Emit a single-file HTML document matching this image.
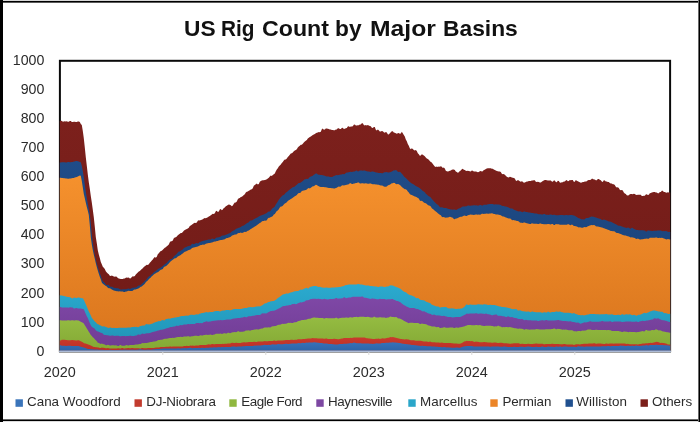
<!DOCTYPE html>
<html><head><meta charset="utf-8"><title>US Rig Count by Major Basins</title>
<style>
html,body{margin:0;padding:0;background:#fff;}
body{width:700px;height:422px;overflow:hidden;position:relative;font-family:"Liberation Sans",sans-serif;color:#333;}
#frame div{position:absolute;}
#title{position:absolute;left:0;width:700px;top:14.4px;height:28px;font-weight:bold;font-size:22.8px;line-height:28px;color:#111;white-space:nowrap;}
#title span{position:absolute;top:0;display:inline-block;transform-origin:0 0;}
svg{position:absolute;left:0;top:0;}
#title,.yl,.xl,.lt{filter:grayscale(1);}
.yl{position:absolute;left:0;width:44.4px;text-align:right;font-size:14.2px;line-height:16px;height:16px;color:#2b2b2b;}
.xl{position:absolute;top:364.2px;width:50px;text-align:center;font-size:14.4px;line-height:16px;color:#2b2b2b;}
.sq{position:absolute;top:399.3px;width:7.4px;height:7.4px;}
.lt{position:absolute;top:393.6px;font-size:13.4px;line-height:16px;color:#2b2b2b;white-space:nowrap;}
</style></head><body>
<div id="title"><span style="left:183.70px;transform:scaleX(0.9966)">US</span> <span style="left:221.00px;transform:scaleX(0.9116)">Rig</span> <span style="left:262.00px;transform:scaleX(1.0177)">Count</span> <span style="left:335.20px;transform:scaleX(0.9973)">by</span> <span style="left:370.20px;transform:scaleX(1.0830)">Major</span> <span style="left:443.30px;transform:scaleX(1.0004)">Basins</span></div>
<svg width="700" height="422" viewBox="0 0 700 422">
<defs>
<linearGradient id="gT" gradientUnits="userSpaceOnUse" x1="0" y1="120.8" x2="0" y2="289.6"><stop offset="0" stop-color="#7c201c"/><stop offset="1" stop-color="#731c18"/></linearGradient>
<linearGradient id="gW" gradientUnits="userSpaceOnUse" x1="0" y1="161.0" x2="0" y2="292.0"><stop offset="0" stop-color="#1f4c88"/><stop offset="1" stop-color="#1a4279"/></linearGradient>
<linearGradient id="gP" gradientUnits="userSpaceOnUse" x1="0" y1="175.5" x2="0" y2="328.1"><stop offset="0" stop-color="#f5912d"/><stop offset="1" stop-color="#dc781f"/></linearGradient>
<linearGradient id="gM" gradientUnits="userSpaceOnUse" x1="0" y1="284.0" x2="0" y2="336.2"><stop offset="0" stop-color="#2baacf"/><stop offset="1" stop-color="#2297ba"/></linearGradient>
<linearGradient id="gH" gradientUnits="userSpaceOnUse" x1="0" y1="296.4" x2="0" y2="346.1"><stop offset="0" stop-color="#7f48a6"/><stop offset="1" stop-color="#703c95"/></linearGradient>
<linearGradient id="gE" gradientUnits="userSpaceOnUse" x1="0" y1="316.6" x2="0" y2="348.6"><stop offset="0" stop-color="#95bc42"/><stop offset="1" stop-color="#84a935"/></linearGradient>
<linearGradient id="gD" gradientUnits="userSpaceOnUse" x1="0" y1="337.1" x2="0" y2="350.1"><stop offset="0" stop-color="#c93a2d"/><stop offset="1" stop-color="#bb3026"/></linearGradient>
<linearGradient id="gC" gradientUnits="userSpaceOnUse" x1="0" y1="342.2" x2="0" y2="350.7"><stop offset="0" stop-color="#3771b9"/><stop offset="1" stop-color="#2d64a8"/></linearGradient>
</defs>
<rect x="59.9" y="60.8" width="610.2" height="290.4" fill="#fff" stroke="#0a0a0a" stroke-width="2"/>
<polygon fill="url(#gT)" points="59.8,350.7 59.8,121.0 60.8,121.0 61.8,120.8 62.8,121.8 63.8,121.4 64.8,121.2 65.8,121.4 66.8,121.2 67.8,121.7 68.8,121.7 69.8,120.9 70.8,121.1 71.8,121.9 72.8,122.1 73.8,121.8 74.8,121.7 75.8,122.0 76.8,121.9 77.8,121.5 78.8,121.4 79.8,122.0 80.8,123.9 81.8,125.1 82.8,131.0 83.8,138.2 84.8,147.5 85.8,157.3 86.8,165.8 87.8,174.6 88.8,182.3 89.8,188.7 90.8,196.0 91.8,202.6 92.8,209.7 93.8,217.2 94.8,226.8 95.8,236.9 96.8,243.2 97.8,250.3 98.8,254.5 99.8,258.0 100.8,262.0 101.8,264.3 102.8,266.8 103.8,267.7 104.8,268.9 105.8,271.3 106.8,272.5 107.8,273.6 108.8,274.2 109.8,275.7 110.8,276.1 111.8,275.6 112.8,276.0 113.8,276.4 114.8,276.8 115.8,276.4 116.8,276.8 117.8,278.0 118.8,278.4 119.8,278.7 120.8,279.1 121.8,279.1 122.8,278.9 123.8,278.6 124.8,278.4 125.8,277.7 126.8,277.5 127.8,277.8 128.8,277.6 129.8,278.5 130.8,278.3 131.8,276.9 132.8,276.3 133.8,276.6 134.8,276.0 135.8,274.5 136.8,273.6 137.8,272.4 138.8,271.5 139.8,271.0 140.8,270.1 141.8,269.1 142.8,268.3 143.8,267.1 144.8,266.3 145.8,265.5 146.8,264.7 147.8,265.0 148.8,264.2 149.8,262.8 150.8,261.8 151.8,260.4 152.8,259.4 153.8,258.0 154.8,257.0 155.8,257.7 156.8,256.7 157.8,254.2 158.8,253.2 159.8,251.9 160.8,250.9 161.8,250.7 162.8,249.7 163.8,248.7 164.8,247.7 165.8,247.3 166.8,246.3 167.8,245.4 168.8,244.4 169.8,242.2 170.8,241.2 171.8,241.2 172.8,240.4 173.8,238.2 174.8,237.4 175.8,237.3 176.8,236.5 177.8,235.3 178.8,234.5 179.8,233.8 180.8,233.0 181.8,232.9 182.8,232.1 183.8,230.8 184.8,230.0 185.8,229.6 186.8,228.9 187.8,228.5 188.8,227.8 189.8,226.1 190.8,225.4 191.8,224.8 192.8,224.1 193.8,223.2 194.8,222.7 195.8,222.9 196.8,222.4 197.8,220.7 198.8,220.2 199.8,220.4 200.8,220.0 201.8,219.7 202.8,219.3 203.8,218.5 204.8,218.1 205.8,218.2 206.8,217.8 207.8,217.2 208.8,216.5 209.8,216.0 210.8,215.3 211.8,214.5 212.8,213.8 213.8,213.9 214.8,213.3 215.8,211.2 216.8,210.7 217.8,211.9 218.8,211.4 219.8,209.6 220.8,209.1 221.8,210.2 222.8,209.6 223.8,208.1 224.8,207.4 225.8,206.2 226.8,205.8 227.8,205.1 228.8,204.6 229.8,204.7 230.8,205.3 231.8,206.2 232.8,205.5 233.8,203.8 234.8,202.6 235.8,202.5 236.8,201.6 237.8,199.3 238.8,198.3 239.8,198.0 240.8,197.1 241.8,196.8 242.8,196.0 243.8,195.1 244.8,194.3 245.8,192.6 246.8,191.8 247.8,191.6 248.8,190.8 249.8,190.3 250.8,189.5 251.8,189.2 252.8,188.3 253.8,185.7 254.8,185.0 255.8,184.3 256.8,183.6 257.8,184.6 258.8,183.9 259.8,181.7 260.8,181.0 261.8,180.6 262.8,180.2 263.8,180.3 264.8,179.9 265.8,179.8 266.8,179.3 267.8,178.4 268.8,177.7 269.8,176.4 270.8,175.6 271.8,175.9 272.8,175.1 273.8,174.2 274.8,173.4 275.8,171.3 276.8,169.6 277.8,168.2 278.8,166.5 279.8,165.4 280.8,164.4 281.8,163.1 282.8,162.1 283.8,160.6 284.8,159.6 285.8,159.6 286.8,158.5 287.8,157.0 288.8,155.9 289.8,154.7 290.8,153.6 291.8,153.3 292.8,152.5 293.8,151.3 294.8,150.4 295.8,150.1 296.8,149.2 297.8,147.4 298.8,146.5 299.8,145.8 300.8,144.8 301.8,144.7 302.8,143.7 303.8,142.4 304.8,141.4 305.8,140.7 306.8,140.0 307.8,138.5 308.8,137.8 309.8,137.1 310.8,136.4 311.8,135.7 312.8,135.0 313.8,134.6 314.8,134.1 315.8,133.3 316.8,132.8 317.8,132.5 318.8,132.0 319.8,132.3 320.8,131.7 321.8,129.2 322.8,128.6 323.8,129.8 324.8,129.5 325.8,128.5 326.8,128.6 327.8,128.8 328.8,128.9 329.8,129.4 330.8,129.5 331.8,129.9 332.8,130.1 333.8,130.3 334.8,130.3 335.8,129.5 336.8,129.4 337.8,128.3 338.8,128.2 339.8,129.1 340.8,129.0 341.8,128.1 342.8,127.8 343.8,129.0 344.8,128.7 345.8,128.3 346.8,127.9 347.8,126.6 348.8,126.2 349.8,126.9 350.8,126.5 351.8,126.6 352.8,126.2 353.8,124.8 354.8,124.4 355.8,125.4 356.8,125.4 357.8,125.3 358.8,125.3 359.8,124.5 360.8,124.5 361.8,123.3 362.8,123.3 363.8,125.1 364.8,125.4 365.8,125.1 366.8,125.4 367.8,125.0 368.8,125.4 369.8,126.0 370.8,126.3 371.8,127.7 372.8,128.0 373.8,126.9 374.8,127.1 375.8,129.7 376.8,130.6 377.8,129.4 378.8,130.3 379.8,131.4 380.8,131.6 381.8,130.9 382.8,131.2 383.8,132.3 384.8,132.7 385.8,131.9 386.8,132.4 387.8,134.3 388.8,134.6 389.8,133.2 390.8,132.3 391.8,131.2 392.8,131.3 393.8,132.4 394.8,132.8 395.8,133.3 396.8,133.7 397.8,133.3 398.8,132.9 399.8,133.7 400.8,133.4 401.8,131.8 402.8,133.3 403.8,134.9 404.8,136.6 405.8,139.4 406.8,141.3 407.8,143.9 408.8,145.7 409.8,148.2 410.8,149.2 411.8,148.3 412.8,149.1 413.8,149.9 414.8,150.6 415.8,150.1 416.8,151.1 417.8,153.3 418.8,154.3 419.8,155.8 420.8,155.6 421.8,154.2 422.8,154.7 423.8,155.4 424.8,156.3 425.8,157.6 426.8,158.4 427.8,158.9 428.8,159.7 429.8,161.1 430.8,161.9 431.8,162.6 432.8,164.0 433.8,165.3 434.8,166.6 435.8,167.0 436.8,166.6 437.8,167.0 438.8,166.5 439.8,166.7 440.8,166.3 441.8,166.8 442.8,168.0 443.8,167.5 444.8,168.4 445.8,170.7 446.8,171.2 447.8,171.5 448.8,171.2 449.8,170.8 450.8,170.6 451.8,169.7 452.8,169.5 453.8,169.5 454.8,170.0 455.8,171.5 456.8,172.0 457.8,172.7 458.8,172.3 459.8,170.9 460.8,170.5 461.8,169.2 462.8,168.8 463.8,169.8 464.8,170.0 465.8,170.8 466.8,171.0 467.8,170.8 468.8,170.9 469.8,171.3 470.8,171.4 471.8,170.6 472.8,170.8 473.8,171.4 474.8,171.6 475.8,171.6 476.8,171.8 477.8,172.2 478.8,172.1 479.8,171.2 480.8,171.0 481.8,171.4 482.8,171.2 483.8,170.1 484.8,169.8 485.8,169.0 486.8,168.4 487.8,168.3 488.8,168.2 489.8,168.3 490.8,168.3 491.8,168.8 492.8,168.8 493.8,169.6 494.8,170.0 495.8,170.5 496.8,170.9 497.8,171.2 498.8,171.6 499.8,171.5 500.8,171.9 501.8,173.8 502.8,174.2 503.8,173.9 504.8,174.8 505.8,175.8 506.8,176.7 507.8,177.2 508.8,177.5 509.8,176.7 510.8,177.0 511.8,177.5 512.8,177.8 513.8,177.9 514.8,178.4 515.8,180.4 516.8,180.9 517.8,180.1 518.8,180.6 519.8,181.2 520.8,181.7 521.8,181.3 522.8,181.7 523.8,182.8 524.8,182.5 525.8,181.9 526.8,181.6 527.8,181.4 528.8,181.1 529.8,181.1 530.8,181.1 531.8,180.4 532.8,180.5 533.8,180.3 534.8,180.3 535.8,181.8 536.8,182.0 537.8,181.7 538.8,181.9 539.8,182.5 540.8,182.6 541.8,181.7 542.8,181.1 543.8,180.4 544.8,180.1 545.8,180.1 546.8,180.2 547.8,180.4 548.8,180.5 549.8,180.5 550.8,180.6 551.8,181.6 552.8,181.7 553.8,180.4 554.8,180.5 555.8,182.1 556.8,182.2 557.8,180.8 558.8,180.9 559.8,182.6 560.8,182.7 561.8,182.2 562.8,182.3 563.8,181.5 564.8,181.4 565.8,180.6 566.8,180.1 567.8,181.2 568.8,180.9 569.8,180.0 570.8,180.2 571.8,179.9 572.8,179.9 573.8,181.7 574.8,181.7 575.8,180.1 576.8,180.7 577.8,181.2 578.8,181.8 579.8,182.3 580.8,182.8 581.8,182.5 582.8,182.0 583.8,182.0 584.8,181.4 585.8,181.5 586.8,181.2 587.8,180.3 588.8,180.1 589.8,180.0 590.8,179.8 591.8,178.7 592.8,178.8 593.8,179.5 594.8,179.5 595.8,180.3 596.8,180.3 597.8,178.9 598.8,179.0 599.8,179.8 600.8,180.2 601.8,181.5 602.8,181.9 603.8,180.3 604.8,180.4 605.8,181.4 606.8,181.5 607.8,181.9 608.8,182.1 609.8,182.9 610.8,183.5 611.8,183.6 612.8,184.2 613.8,184.3 614.8,185.0 615.8,186.8 616.8,187.5 617.8,187.3 618.8,188.0 619.8,189.8 620.8,190.3 621.8,190.0 622.8,190.5 623.8,192.6 624.8,193.5 625.8,193.9 626.8,195.2 627.8,195.4 628.8,195.2 629.8,194.2 630.8,193.9 631.8,194.1 632.8,194.2 633.8,193.8 634.8,193.9 635.8,194.8 636.8,194.9 637.8,194.7 638.8,194.8 639.8,194.7 640.8,194.7 641.8,196.0 642.8,196.0 643.8,195.7 644.8,195.7 645.8,194.6 646.8,194.2 647.8,195.1 648.8,194.7 649.8,193.3 650.8,192.9 651.8,192.4 652.8,192.3 653.8,192.0 654.8,191.9 655.8,192.6 656.8,192.6 657.8,193.3 658.8,193.2 659.8,192.0 660.8,192.0 661.8,190.8 662.8,190.7 663.8,192.1 664.8,192.0 665.8,192.4 666.8,192.7 667.8,192.2 668.8,192.4 669.8,192.6 670.2,192.5 670.2,350.7"/>
<polygon fill="url(#gW)" points="59.8,350.7 59.8,162.6 60.8,162.5 61.8,162.3 62.8,162.2 63.8,162.3 64.8,162.2 65.8,162.5 66.8,162.4 67.8,162.1 68.8,162.1 69.8,162.3 70.8,162.2 71.8,162.0 72.8,161.9 73.8,161.4 74.8,161.4 75.8,161.1 76.8,161.0 77.8,161.3 78.8,161.4 79.8,162.1 80.8,162.3 81.8,165.9 82.8,170.9 83.8,177.3 84.8,184.7 85.8,192.1 86.8,198.1 87.8,203.7 88.8,209.2 89.8,214.3 90.8,223.5 91.8,234.1 92.8,242.8 93.8,249.5 94.8,255.4 95.8,259.6 96.8,263.6 97.8,267.1 98.8,270.2 99.8,273.1 100.8,275.8 101.8,279.0 102.8,281.2 103.8,282.0 104.8,283.0 105.8,284.4 106.8,285.2 107.8,284.7 108.8,285.1 109.8,286.4 110.8,286.8 111.8,286.7 112.8,287.1 113.8,287.7 114.8,287.9 115.8,287.9 116.8,288.2 117.8,288.3 118.8,288.6 119.8,289.3 120.8,289.6 121.8,289.4 122.8,289.3 123.8,289.3 124.8,289.2 125.8,289.2 126.8,289.1 127.8,288.8 128.8,288.6 129.8,288.9 130.8,288.7 131.8,288.0 132.8,287.8 133.8,287.7 134.8,287.5 135.8,287.5 136.8,287.0 137.8,285.9 138.8,285.4 139.8,285.4 140.8,284.9 141.8,284.1 142.8,283.1 143.8,282.2 144.8,281.1 145.8,280.0 146.8,278.9 147.8,277.6 148.8,276.5 149.8,276.0 150.8,275.2 151.8,274.3 152.8,273.5 153.8,272.3 154.8,271.5 155.8,270.9 156.8,270.1 157.8,269.2 158.8,268.5 159.8,268.3 160.8,267.6 161.8,266.8 162.8,266.1 163.8,265.0 164.8,264.2 165.8,263.5 166.8,262.7 167.8,261.4 168.8,260.6 169.8,259.8 170.8,259.0 171.8,258.9 172.8,257.9 173.8,256.6 174.8,255.6 175.8,254.7 176.8,253.8 177.8,252.4 178.8,251.5 179.8,251.4 180.8,250.7 181.8,250.1 182.8,249.4 183.8,248.2 184.8,247.5 185.8,247.2 186.8,246.8 187.8,246.3 188.8,245.9 189.8,245.8 190.8,245.4 191.8,244.1 192.8,243.7 193.8,244.2 194.8,243.8 195.8,243.3 196.8,242.9 197.8,243.4 198.8,243.0 199.8,242.0 200.8,241.7 201.8,241.2 202.8,240.9 203.8,240.8 204.8,240.6 205.8,240.2 206.8,239.9 207.8,239.7 208.8,239.5 209.8,239.6 210.8,239.4 211.8,238.8 212.8,238.6 213.8,239.2 214.8,238.9 215.8,237.9 216.8,237.6 217.8,237.6 218.8,237.3 219.8,236.9 220.8,236.6 221.8,235.8 222.8,235.4 223.8,235.6 224.8,235.2 225.8,234.8 226.8,234.4 227.8,233.9 228.8,233.5 229.8,233.3 230.8,232.6 231.8,231.5 232.8,230.9 233.8,230.5 234.8,229.9 235.8,229.1 236.8,228.6 237.8,228.3 238.8,227.8 239.8,227.4 240.8,226.9 241.8,226.2 242.8,225.7 243.8,225.4 244.8,224.8 245.8,223.9 246.8,223.2 247.8,222.8 248.8,222.2 249.8,221.1 250.8,220.5 251.8,220.5 252.8,220.0 253.8,219.2 254.8,218.7 255.8,218.2 256.8,217.7 257.8,217.2 258.8,216.6 259.8,216.0 260.8,215.5 261.8,215.2 262.8,214.7 263.8,214.4 264.8,213.9 265.8,213.4 266.8,212.9 267.8,212.1 268.8,211.6 269.8,211.4 270.8,210.5 271.8,209.1 272.8,208.1 273.8,207.5 274.8,206.5 275.8,204.5 276.8,202.9 277.8,201.4 278.8,199.8 279.8,198.4 280.8,197.3 281.8,196.2 282.8,195.3 283.8,194.9 284.8,194.0 285.8,192.8 286.8,191.9 287.8,191.2 288.8,190.3 289.8,189.4 290.8,188.7 291.8,187.9 292.8,187.2 293.8,187.1 294.8,186.5 295.8,185.5 296.8,184.8 297.8,183.8 298.8,183.1 299.8,183.1 300.8,182.5 301.8,181.7 302.8,181.1 303.8,179.9 304.8,179.3 305.8,179.3 306.8,178.7 307.8,178.9 308.8,178.3 309.8,177.0 310.8,176.5 311.8,176.2 312.8,175.7 313.8,174.7 314.8,174.2 315.8,173.5 316.8,173.6 317.8,174.4 318.8,174.7 319.8,174.7 320.8,174.9 321.8,175.1 322.8,175.3 323.8,175.6 324.8,175.8 325.8,176.2 326.8,176.4 327.8,176.4 328.8,176.6 329.8,177.1 330.8,177.0 331.8,176.9 332.8,176.7 333.8,175.9 334.8,175.7 335.8,175.3 336.8,175.1 337.8,175.3 338.8,175.1 339.8,174.8 340.8,174.5 341.8,174.4 342.8,174.1 343.8,174.3 344.8,174.0 345.8,172.9 346.8,172.6 347.8,172.6 348.8,172.3 349.8,171.9 350.8,171.7 351.8,172.0 352.8,171.8 353.8,171.6 354.8,171.5 355.8,170.7 356.8,170.6 357.8,171.4 358.8,171.2 359.8,170.6 360.8,170.6 361.8,170.6 362.8,170.7 363.8,170.5 364.8,170.6 365.8,171.1 366.8,171.2 367.8,171.5 368.8,171.5 369.8,171.8 370.8,171.9 371.8,171.5 372.8,171.6 373.8,171.7 374.8,171.9 375.8,172.4 376.8,172.6 377.8,172.7 378.8,172.9 379.8,172.9 380.8,172.9 381.8,173.3 382.8,173.2 383.8,172.4 384.8,172.3 385.8,172.2 386.8,172.1 387.8,172.6 388.8,172.5 389.8,172.3 390.8,171.9 391.8,171.5 392.8,171.0 393.8,170.3 394.8,170.4 395.8,170.1 396.8,170.4 397.8,171.8 398.8,172.1 399.8,171.7 400.8,172.6 401.8,173.8 402.8,174.8 403.8,176.2 404.8,177.2 405.8,178.0 406.8,179.0 407.8,179.9 408.8,180.9 409.8,182.0 410.8,182.7 411.8,183.5 412.8,184.1 413.8,184.6 414.8,185.3 415.8,185.9 416.8,186.6 417.8,186.9 418.8,187.6 419.8,188.3 420.8,189.1 421.8,190.1 422.8,190.9 423.8,191.4 424.8,192.3 425.8,193.7 426.8,194.6 427.8,195.4 428.8,196.2 429.8,196.7 430.8,197.6 431.8,198.9 432.8,199.9 433.8,201.2 434.8,202.2 435.8,203.2 436.8,204.2 437.8,204.7 438.8,205.7 439.8,207.1 440.8,207.5 441.8,207.2 442.8,207.4 443.8,207.9 444.8,208.1 445.8,208.0 446.8,208.2 447.8,208.8 448.8,209.0 449.8,209.3 450.8,209.5 451.8,209.5 452.8,209.7 453.8,209.4 454.8,209.6 455.8,210.1 456.8,209.8 457.8,208.9 458.8,208.4 459.8,208.2 460.8,207.7 461.8,207.0 462.8,206.5 463.8,206.5 464.8,206.4 465.8,206.3 466.8,206.2 467.8,205.4 468.8,205.4 469.8,205.8 470.8,205.7 471.8,205.6 472.8,205.5 473.8,205.3 474.8,205.2 475.8,205.4 476.8,205.3 477.8,205.7 478.8,205.6 479.8,205.1 480.8,205.0 481.8,205.6 482.8,205.5 483.8,204.8 484.8,204.7 485.8,204.8 486.8,204.7 487.8,204.2 488.8,204.2 489.8,204.1 490.8,204.1 491.8,203.9 492.8,204.0 493.8,204.5 494.8,204.6 495.8,204.3 496.8,204.4 497.8,204.4 498.8,204.5 499.8,204.7 500.8,204.9 501.8,205.8 502.8,206.1 503.8,206.1 504.8,206.4 505.8,206.4 506.8,206.7 507.8,207.3 508.8,207.6 509.8,208.2 510.8,208.6 511.8,208.5 512.8,208.8 513.8,209.7 514.8,210.0 515.8,210.4 516.8,210.7 517.8,211.2 518.8,211.5 519.8,211.2 520.8,211.4 521.8,212.1 522.8,212.3 523.8,211.4 524.8,211.5 525.8,211.9 526.8,212.0 527.8,212.3 528.8,212.5 529.8,212.6 530.8,212.7 531.8,213.0 532.8,213.1 533.8,213.3 534.8,213.4 535.8,213.5 536.8,213.6 537.8,214.1 538.8,214.2 539.8,214.2 540.8,214.2 541.8,214.5 542.8,214.5 543.8,214.1 544.8,214.1 545.8,214.7 546.8,214.8 547.8,214.8 548.8,214.9 549.8,214.4 550.8,214.5 551.8,214.8 552.8,214.9 553.8,214.7 554.8,214.8 555.8,215.2 556.8,215.2 557.8,215.2 558.8,215.2 559.8,215.1 560.8,215.1 561.8,215.0 562.8,215.0 563.8,215.2 564.8,215.2 565.8,215.0 566.8,215.0 567.8,215.3 568.8,215.3 569.8,215.0 570.8,215.1 571.8,215.1 572.8,215.3 573.8,215.5 574.8,215.7 575.8,216.5 576.8,217.1 577.8,217.7 578.8,218.2 579.8,218.6 580.8,219.1 581.8,219.5 582.8,219.3 583.8,219.6 584.8,219.2 585.8,218.3 586.8,217.9 587.8,218.1 588.8,217.7 589.8,217.2 590.8,216.8 591.8,216.5 592.8,216.7 593.8,216.8 594.8,217.2 595.8,217.4 596.8,217.7 597.8,218.2 598.8,218.6 599.8,218.8 600.8,219.1 601.8,219.9 602.8,220.1 603.8,219.5 604.8,219.8 605.8,220.2 606.8,220.5 607.8,221.1 608.8,221.4 609.8,221.4 610.8,221.8 611.8,222.3 612.8,222.8 613.8,223.3 614.8,223.7 615.8,224.3 616.8,224.7 617.8,225.4 618.8,225.8 619.8,225.7 620.8,226.0 621.8,226.6 622.8,226.8 623.8,227.3 624.8,227.5 625.8,227.8 626.8,228.0 627.8,227.6 628.8,227.8 629.8,228.6 630.8,228.8 631.8,227.8 632.8,228.0 633.8,229.0 634.8,229.3 635.8,229.7 636.8,229.9 637.8,230.0 638.8,230.2 639.8,230.2 640.8,230.3 641.8,230.3 642.8,230.3 643.8,230.5 644.8,230.6 645.8,231.4 646.8,231.4 647.8,230.6 648.8,230.6 649.8,230.8 650.8,230.7 651.8,231.0 652.8,230.9 653.8,230.8 654.8,230.8 655.8,230.8 656.8,230.8 657.8,230.4 658.8,230.4 659.8,230.5 660.8,230.6 661.8,231.1 662.8,231.2 663.8,231.1 664.8,231.2 665.8,231.0 666.8,231.2 667.8,231.8 668.8,232.0 669.8,231.8 670.2,231.9 670.2,350.7"/>
<polygon fill="url(#gP)" points="59.8,350.7 59.8,177.7 60.8,177.8 61.8,177.9 62.8,178.0 63.8,178.2 64.8,178.3 65.8,178.4 66.8,178.5 67.8,178.7 68.8,178.8 69.8,178.6 70.8,178.4 71.8,178.2 72.8,177.9 73.8,177.9 74.8,177.6 75.8,177.2 76.8,176.9 77.8,176.4 78.8,176.1 79.8,175.5 80.8,175.7 81.8,180.9 82.8,187.6 83.8,194.1 84.8,198.2 85.8,202.8 86.8,206.9 87.8,210.8 88.8,214.9 89.8,225.3 90.8,237.3 91.8,244.4 92.8,249.9 93.8,254.7 94.8,258.8 95.8,263.3 96.8,267.1 97.8,270.4 98.8,273.8 99.8,276.7 100.8,279.3 101.8,282.5 102.8,283.8 103.8,284.4 104.8,285.3 105.8,285.9 106.8,286.6 107.8,287.7 108.8,288.2 109.8,288.3 110.8,288.7 111.8,289.5 112.8,289.9 113.8,290.4 114.8,290.7 115.8,291.0 116.8,291.2 117.8,291.3 118.8,291.6 119.8,291.2 120.8,291.5 121.8,291.6 122.8,291.5 123.8,292.0 124.8,291.9 125.8,291.5 126.8,291.4 127.8,290.9 128.8,290.8 129.8,291.1 130.8,290.9 131.8,291.0 132.8,290.8 133.8,289.7 134.8,289.5 135.8,289.5 136.8,289.0 137.8,288.8 138.8,288.3 139.8,287.4 140.8,286.8 141.8,286.6 142.8,285.6 143.8,284.8 144.8,283.7 145.8,282.3 146.8,281.2 147.8,280.4 148.8,279.3 149.8,278.2 150.8,277.4 151.8,276.3 152.8,275.5 153.8,274.6 154.8,273.8 155.8,273.2 156.8,272.4 157.8,272.2 158.8,271.5 159.8,270.5 160.8,269.8 161.8,269.6 162.8,268.9 163.8,267.3 164.8,266.4 165.8,266.3 166.8,265.4 167.8,264.5 168.8,263.6 169.8,262.2 170.8,261.3 171.8,260.5 172.8,259.8 173.8,259.0 174.8,258.3 175.8,258.3 176.8,257.6 177.8,256.6 178.8,256.0 179.8,255.6 180.8,254.9 181.8,254.0 182.8,253.4 183.8,252.5 184.8,251.8 185.8,251.5 186.8,250.9 187.8,250.5 188.8,250.0 189.8,249.8 190.8,249.3 191.8,248.3 192.8,247.8 193.8,247.5 194.8,247.2 195.8,247.0 196.8,246.7 197.8,246.4 198.8,246.1 199.8,245.4 200.8,245.1 201.8,244.9 202.8,244.6 203.8,244.8 204.8,244.5 205.8,243.7 206.8,243.4 207.8,243.2 208.8,243.0 209.8,243.0 210.8,242.8 211.8,242.5 212.8,242.3 213.8,241.7 214.8,241.5 215.8,241.4 216.8,241.1 217.8,240.9 218.8,240.6 219.8,240.3 220.8,240.0 221.8,240.1 222.8,239.8 223.8,239.5 224.8,239.2 225.8,238.4 226.8,238.1 227.8,237.9 228.8,237.5 229.8,237.2 230.8,236.7 231.8,235.8 232.8,235.3 233.8,235.1 234.8,234.6 235.8,234.4 236.8,234.2 237.8,233.2 238.8,232.9 239.8,232.9 240.8,232.6 241.8,233.1 242.8,232.8 243.8,232.2 244.8,231.8 245.8,232.0 246.8,231.6 247.8,230.7 248.8,230.4 249.8,229.7 250.8,229.1 251.8,228.4 252.8,227.7 253.8,227.2 254.8,226.5 255.8,225.9 256.8,225.3 257.8,224.5 258.8,223.8 259.8,223.0 260.8,222.4 261.8,221.5 262.8,220.9 263.8,221.1 264.8,220.6 265.8,220.8 266.8,220.3 267.8,218.4 268.8,217.8 269.8,217.7 270.8,217.0 271.8,216.8 272.8,216.1 273.8,214.6 274.8,213.9 275.8,212.4 276.8,211.0 277.8,210.6 278.8,209.3 279.8,207.4 280.8,206.5 281.8,206.6 282.8,205.8 283.8,204.4 284.8,203.6 285.8,203.1 286.8,202.3 287.8,201.1 288.8,200.3 289.8,199.7 290.8,199.0 291.8,198.6 292.8,197.8 293.8,197.0 294.8,196.3 295.8,195.7 296.8,194.9 297.8,193.8 298.8,193.1 299.8,192.9 300.8,192.4 301.8,191.1 302.8,190.7 303.8,190.6 304.8,190.2 305.8,190.0 306.8,189.6 307.8,188.4 308.8,188.0 309.8,188.4 310.8,187.8 311.8,186.9 312.8,186.3 313.8,186.2 314.8,185.6 315.8,184.8 316.8,185.1 317.8,185.8 318.8,186.2 319.8,186.8 320.8,186.9 321.8,187.0 322.8,187.1 323.8,187.0 324.8,187.2 325.8,187.2 326.8,187.4 327.8,187.8 328.8,187.9 329.8,188.0 330.8,188.0 331.8,188.2 332.8,188.2 333.8,188.6 334.8,188.6 335.8,188.1 336.8,187.8 337.8,186.9 338.8,186.5 339.8,186.8 340.8,186.5 341.8,185.6 342.8,185.3 343.8,185.5 344.8,185.3 345.8,184.9 346.8,184.7 347.8,184.4 348.8,184.2 349.8,183.3 350.8,183.2 351.8,184.0 352.8,183.9 353.8,183.6 354.8,183.5 355.8,183.1 356.8,183.0 357.8,182.6 358.8,182.5 359.8,183.4 360.8,183.4 361.8,183.2 362.8,183.3 363.8,183.4 364.8,183.5 365.8,183.3 366.8,183.4 367.8,183.7 368.8,183.8 369.8,183.5 370.8,183.6 371.8,184.1 372.8,184.2 373.8,184.2 374.8,184.3 375.8,184.4 376.8,184.5 377.8,184.7 378.8,184.8 379.8,185.3 380.8,185.6 381.8,185.4 382.8,185.8 383.8,186.4 384.8,186.8 385.8,186.8 386.8,186.4 387.8,185.6 388.8,184.9 389.8,184.8 390.8,184.1 391.8,183.2 392.8,183.3 393.8,182.7 394.8,183.0 395.8,183.9 396.8,184.2 397.8,184.0 398.8,184.3 399.8,185.0 400.8,185.7 401.8,186.9 402.8,187.7 403.8,188.4 404.8,189.2 405.8,189.2 406.8,190.1 407.8,191.6 408.8,192.6 409.8,194.0 410.8,194.7 411.8,195.1 412.8,195.6 413.8,196.0 414.8,196.6 415.8,196.7 416.8,197.2 417.8,197.9 418.8,198.5 419.8,200.5 420.8,201.1 421.8,200.7 422.8,201.4 423.8,202.4 424.8,203.1 425.8,203.2 426.8,203.9 427.8,204.9 428.8,205.6 429.8,205.7 430.8,206.5 431.8,208.2 432.8,209.0 433.8,209.8 434.8,210.7 435.8,211.4 436.8,212.3 437.8,213.2 438.8,214.0 439.8,214.7 440.8,215.3 441.8,216.8 442.8,217.3 443.8,217.1 444.8,217.6 445.8,217.7 446.8,217.6 447.8,217.5 448.8,217.2 449.8,216.8 450.8,217.0 451.8,217.4 452.8,217.7 453.8,219.0 454.8,219.3 455.8,218.6 456.8,218.4 457.8,218.0 458.8,217.5 459.8,217.1 460.8,216.7 461.8,216.7 462.8,216.3 463.8,215.7 464.8,215.5 465.8,216.1 466.8,216.0 467.8,215.2 468.8,215.1 469.8,214.7 470.8,214.6 471.8,214.8 472.8,214.7 473.8,214.9 474.8,214.8 475.8,214.5 476.8,214.4 477.8,214.7 478.8,214.6 479.8,214.7 480.8,214.6 481.8,213.8 482.8,213.7 483.8,213.9 484.8,213.8 485.8,213.7 486.8,213.6 487.8,213.8 488.8,213.8 489.8,213.4 490.8,213.5 491.8,213.2 492.8,213.4 493.8,213.9 494.8,214.0 495.8,214.5 496.8,214.6 497.8,214.6 498.8,214.8 499.8,214.9 500.8,215.2 501.8,216.0 502.8,216.4 503.8,216.5 504.8,216.9 505.8,217.4 506.8,217.8 507.8,218.2 508.8,218.6 509.8,218.5 510.8,218.8 511.8,220.0 512.8,220.3 513.8,220.1 514.8,220.4 515.8,220.6 516.8,220.9 517.8,221.1 518.8,221.4 519.8,222.5 520.8,222.7 521.8,222.7 522.8,222.9 523.8,222.4 524.8,222.6 525.8,223.1 526.8,223.2 527.8,223.5 528.8,223.7 529.8,224.0 530.8,224.0 531.8,223.3 532.8,223.4 533.8,223.7 534.8,223.7 535.8,223.7 536.8,223.7 537.8,224.1 538.8,224.1 539.8,223.4 540.8,223.5 541.8,224.0 542.8,224.0 543.8,224.2 544.8,224.2 545.8,224.2 546.8,224.3 547.8,224.1 548.8,224.1 549.8,224.3 550.8,224.4 551.8,224.0 552.8,224.0 553.8,225.0 554.8,225.0 555.8,224.1 556.8,224.2 557.8,224.3 558.8,224.3 559.8,224.7 560.8,224.7 561.8,224.7 562.8,224.7 563.8,224.7 564.8,224.7 565.8,224.8 566.8,224.8 567.8,224.3 568.8,224.3 569.8,225.1 570.8,225.3 571.8,224.6 572.8,224.9 573.8,225.9 574.8,226.1 575.8,226.2 576.8,226.5 577.8,227.1 578.8,227.4 579.8,227.3 580.8,227.6 581.8,227.8 582.8,227.7 583.8,227.3 584.8,227.0 585.8,227.3 586.8,227.0 587.8,226.2 588.8,225.9 589.8,225.6 590.8,225.3 591.8,225.1 592.8,225.2 593.8,225.0 594.8,225.3 595.8,226.3 596.8,226.6 597.8,226.5 598.8,226.7 599.8,226.9 600.8,227.2 601.8,227.4 602.8,227.8 603.8,228.3 604.8,228.6 605.8,228.9 606.8,229.2 607.8,229.8 608.8,230.1 609.8,230.5 610.8,230.9 611.8,230.9 612.8,231.2 613.8,231.2 614.8,231.6 615.8,232.6 616.8,232.9 617.8,233.0 618.8,233.3 619.8,233.8 620.8,234.1 621.8,234.6 622.8,234.9 623.8,235.3 624.8,235.6 625.8,235.6 626.8,235.9 627.8,236.3 628.8,236.6 629.8,237.1 630.8,237.4 631.8,237.2 632.8,237.5 633.8,237.7 634.8,238.0 635.8,238.7 636.8,239.0 637.8,238.6 638.8,238.9 639.8,239.4 640.8,239.4 641.8,239.3 642.8,239.2 643.8,238.9 644.8,238.7 645.8,238.8 646.8,238.6 647.8,238.8 648.8,238.7 649.8,237.7 650.8,237.7 651.8,237.7 652.8,237.7 653.8,237.7 654.8,237.7 655.8,237.6 656.8,237.6 657.8,238.0 658.8,238.0 659.8,237.8 660.8,237.9 661.8,237.7 662.8,237.9 663.8,238.5 664.8,238.7 665.8,239.2 666.8,239.4 667.8,239.0 668.8,239.2 669.8,239.5 670.2,239.6 670.2,350.7"/>
<polygon fill="url(#gM)" points="59.8,350.7 59.8,295.3 60.8,295.5 61.8,295.6 62.8,295.7 63.8,296.0 64.8,296.2 65.8,296.5 66.8,296.7 67.8,296.9 68.8,297.1 69.8,297.3 70.8,297.5 71.8,298.3 72.8,298.4 73.8,297.4 74.8,297.5 75.8,298.0 76.8,298.1 77.8,297.5 78.8,297.6 79.8,297.8 80.8,297.9 81.8,298.2 82.8,298.3 83.8,299.7 84.8,302.0 85.8,304.2 86.8,306.6 87.8,309.1 88.8,311.5 89.8,313.3 90.8,315.6 91.8,317.7 92.8,318.9 93.8,320.3 94.8,321.5 95.8,322.2 96.8,323.4 97.8,324.2 98.8,324.6 99.8,325.2 100.8,325.5 101.8,326.3 102.8,326.6 103.8,326.2 104.8,326.5 105.8,327.0 106.8,327.3 107.8,327.8 108.8,327.9 109.8,327.5 110.8,327.6 111.8,327.9 112.8,327.9 113.8,327.8 114.8,327.9 115.8,328.1 116.8,328.1 117.8,327.9 118.8,327.8 119.8,327.7 120.8,327.7 121.8,327.8 122.8,327.7 123.8,327.7 124.8,327.7 125.8,327.7 126.8,327.7 127.8,327.5 128.8,327.4 129.8,327.5 130.8,327.5 131.8,327.1 132.8,327.0 133.8,326.9 134.8,326.7 135.8,326.9 136.8,326.7 137.8,327.2 138.8,327.0 139.8,326.3 140.8,326.1 141.8,325.7 142.8,325.5 143.8,325.6 144.8,325.4 145.8,324.3 146.8,324.1 147.8,324.5 148.8,324.3 149.8,324.5 150.8,324.1 151.8,323.7 152.8,323.4 153.8,322.8 154.8,322.5 155.8,322.1 156.8,321.8 157.8,321.4 158.8,321.1 159.8,321.3 160.8,321.0 161.8,320.2 162.8,319.9 163.8,320.5 164.8,320.2 165.8,319.1 166.8,318.9 167.8,318.7 168.8,318.5 169.8,318.8 170.8,318.6 171.8,318.1 172.8,317.9 173.8,317.7 174.8,317.5 175.8,317.4 176.8,317.2 177.8,317.1 178.8,316.9 179.8,316.4 180.8,316.2 181.8,316.1 182.8,315.9 183.8,315.9 184.8,315.8 185.8,315.7 186.8,315.6 187.8,315.7 188.8,315.6 189.8,314.9 190.8,314.8 191.8,314.8 192.8,314.7 193.8,314.9 194.8,314.7 195.8,314.4 196.8,314.3 197.8,314.5 198.8,314.3 199.8,313.6 200.8,313.4 201.8,313.1 202.8,312.9 203.8,312.7 204.8,312.5 205.8,312.3 206.8,312.1 207.8,312.4 208.8,312.3 209.8,312.0 210.8,311.9 211.8,312.0 212.8,311.9 213.8,311.4 214.8,311.3 215.8,311.1 216.8,311.0 217.8,311.1 218.8,311.0 219.8,311.4 220.8,311.3 221.8,310.7 222.8,310.6 223.8,310.5 224.8,310.4 225.8,310.1 226.8,310.0 227.8,310.0 228.8,309.9 229.8,310.2 230.8,310.2 231.8,309.7 232.8,309.6 233.8,309.1 234.8,309.0 235.8,309.0 236.8,308.9 237.8,309.1 238.8,309.0 239.8,309.1 240.8,309.0 241.8,308.7 242.8,308.6 243.8,308.2 244.8,308.0 245.8,308.1 246.8,307.9 247.8,307.5 248.8,307.3 249.8,307.2 250.8,307.1 251.8,307.3 252.8,307.2 253.8,307.1 254.8,307.0 255.8,306.5 256.8,306.4 257.8,306.5 258.8,306.3 259.8,306.4 260.8,306.0 261.8,305.4 262.8,305.0 263.8,304.0 264.8,303.6 265.8,303.3 266.8,302.9 267.8,302.3 268.8,301.9 269.8,301.7 270.8,301.3 271.8,301.3 272.8,300.9 273.8,301.0 274.8,300.6 275.8,299.8 276.8,299.1 277.8,298.1 278.8,297.4 279.8,296.8 280.8,296.1 281.8,295.2 282.8,294.5 283.8,294.2 284.8,293.9 285.8,293.7 286.8,293.3 287.8,293.7 288.8,293.3 289.8,292.7 290.8,292.4 291.8,292.2 292.8,292.0 293.8,291.5 294.8,291.3 295.8,291.3 296.8,291.1 297.8,291.0 298.8,290.7 299.8,289.9 300.8,289.6 301.8,289.8 302.8,289.5 303.8,288.7 304.8,288.4 305.8,288.0 306.8,287.7 307.8,288.5 308.8,288.2 309.8,287.0 310.8,286.7 311.8,286.6 312.8,286.3 313.8,286.0 314.8,285.9 315.8,286.1 316.8,286.3 317.8,286.7 318.8,286.9 319.8,286.8 320.8,287.0 321.8,287.5 322.8,287.5 323.8,287.8 324.8,287.8 325.8,287.6 326.8,287.6 327.8,287.7 328.8,287.7 329.8,287.8 330.8,287.8 331.8,287.4 332.8,287.4 333.8,287.5 334.8,287.5 335.8,287.3 336.8,287.3 337.8,287.3 338.8,287.1 339.8,287.1 340.8,286.8 341.8,286.5 342.8,286.2 343.8,286.0 344.8,285.6 345.8,285.1 346.8,285.0 347.8,284.7 348.8,284.6 349.8,284.4 350.8,284.4 351.8,284.6 352.8,284.5 353.8,284.6 354.8,284.6 355.8,284.5 356.8,284.5 357.8,284.0 358.8,284.0 359.8,284.4 360.8,284.4 361.8,284.6 362.8,284.8 363.8,285.1 364.8,285.3 365.8,285.4 366.8,285.6 367.8,285.4 368.8,285.6 369.8,285.9 370.8,286.0 371.8,286.1 372.8,286.2 373.8,286.3 374.8,286.4 375.8,286.4 376.8,286.5 377.8,287.1 378.8,287.1 379.8,286.6 380.8,286.6 381.8,286.5 382.8,286.5 383.8,286.9 384.8,286.9 385.8,286.7 386.8,286.6 387.8,286.5 388.8,286.3 389.8,285.5 390.8,285.3 391.8,285.6 392.8,285.4 393.8,285.9 394.8,286.4 395.8,286.7 396.8,287.2 397.8,287.6 398.8,288.1 399.8,288.5 400.8,289.0 401.8,290.1 402.8,290.8 403.8,291.4 404.8,292.1 405.8,292.2 406.8,292.9 407.8,293.9 408.8,294.6 409.8,294.9 410.8,295.3 411.8,295.6 412.8,296.0 413.8,296.4 414.8,296.8 415.8,297.9 416.8,298.3 417.8,298.1 418.8,298.5 419.8,299.5 420.8,299.9 421.8,299.9 422.8,300.3 423.8,300.3 424.8,300.7 425.8,301.6 426.8,302.1 427.8,302.3 428.8,302.8 429.8,303.1 430.8,303.6 431.8,304.7 432.8,305.0 433.8,305.4 434.8,305.7 435.8,306.3 436.8,306.6 437.8,306.4 438.8,306.7 439.8,307.5 440.8,307.6 441.8,307.1 442.8,307.2 443.8,307.0 444.8,307.1 445.8,307.1 446.8,307.2 447.8,308.2 448.8,308.3 449.8,308.5 450.8,308.6 451.8,308.3 452.8,308.4 453.8,308.6 454.8,308.7 455.8,309.0 456.8,309.0 457.8,308.7 458.8,308.7 459.8,308.7 460.8,308.6 461.8,308.6 462.8,308.0 463.8,307.3 464.8,306.5 465.8,304.9 466.8,304.2 467.8,305.0 468.8,304.9 469.8,304.6 470.8,304.5 471.8,304.8 472.8,304.7 473.8,304.7 474.8,304.7 475.8,304.8 476.8,304.8 477.8,304.3 478.8,304.3 479.8,304.5 480.8,304.6 481.8,304.6 482.8,304.7 483.8,304.3 484.8,304.3 485.8,304.4 486.8,304.4 487.8,304.9 488.8,305.0 489.8,304.7 490.8,304.7 491.8,305.0 492.8,305.0 493.8,304.9 494.8,305.0 495.8,305.4 496.8,305.6 497.8,306.0 498.8,306.2 499.8,306.4 500.8,306.6 501.8,306.9 502.8,307.1 503.8,307.1 504.8,307.3 505.8,307.3 506.8,307.6 507.8,307.8 508.8,308.0 509.8,308.3 510.8,308.5 511.8,309.1 512.8,309.3 513.8,309.1 514.8,309.3 515.8,309.1 516.8,309.3 517.8,310.4 518.8,310.6 519.8,310.3 520.8,310.5 521.8,311.1 522.8,311.3 523.8,311.2 524.8,311.4 525.8,311.6 526.8,311.8 527.8,311.6 528.8,311.6 529.8,312.1 530.8,312.2 531.8,311.5 532.8,311.6 533.8,311.9 534.8,311.9 535.8,312.3 536.8,312.3 537.8,312.3 538.8,312.3 539.8,312.2 540.8,312.3 541.8,312.8 542.8,312.8 543.8,312.2 544.8,312.2 545.8,312.6 546.8,312.5 547.8,311.8 548.8,311.8 549.8,312.4 550.8,312.4 551.8,312.0 552.8,311.9 553.8,312.1 554.8,312.0 555.8,311.5 556.8,311.5 557.8,311.7 558.8,311.8 559.8,311.6 560.8,311.7 561.8,312.2 562.8,312.3 563.8,312.7 564.8,312.8 565.8,312.7 566.8,312.8 567.8,312.7 568.8,312.8 569.8,312.9 570.8,313.0 571.8,313.5 572.8,313.6 573.8,313.1 574.8,313.4 575.8,313.9 576.8,314.2 577.8,314.8 578.8,315.1 579.8,315.0 580.8,315.3 581.8,315.2 582.8,315.0 583.8,315.5 584.8,315.3 585.8,314.9 586.8,314.7 587.8,314.6 588.8,314.4 589.8,314.0 590.8,314.0 591.8,314.0 592.8,314.0 593.8,314.1 594.8,314.1 595.8,314.2 596.8,314.2 597.8,314.3 598.8,314.3 599.8,314.4 600.8,314.3 601.8,314.3 602.8,314.3 603.8,314.2 604.8,314.2 605.8,314.0 606.8,314.1 607.8,314.5 608.8,314.6 609.8,314.4 610.8,314.4 611.8,314.3 612.8,314.4 613.8,314.9 614.8,314.9 615.8,314.9 616.8,315.0 617.8,314.7 618.8,314.7 619.8,314.9 620.8,314.9 621.8,314.3 622.8,314.3 623.8,314.7 624.8,314.7 625.8,314.3 626.8,314.3 627.8,314.6 628.8,314.6 629.8,314.3 630.8,314.4 631.8,315.1 632.8,315.2 633.8,314.8 634.8,314.9 635.8,315.6 636.8,315.7 637.8,315.1 638.8,314.8 639.8,314.7 640.8,314.4 641.8,313.9 642.8,313.6 643.8,313.0 644.8,312.7 645.8,313.2 646.8,312.9 647.8,312.5 648.8,312.2 649.8,311.6 650.8,311.3 651.8,310.9 652.8,310.6 653.8,310.4 654.8,310.5 655.8,310.8 656.8,310.9 657.8,311.3 658.8,311.4 659.8,311.6 660.8,311.7 661.8,311.8 662.8,312.1 663.8,312.9 664.8,313.2 665.8,313.1 666.8,313.4 667.8,313.7 668.8,314.0 669.8,313.8 670.2,313.8 670.2,350.7"/>
<polygon fill="url(#gH)" points="59.8,350.7 59.8,306.9 60.8,307.0 61.8,307.4 62.8,307.4 63.8,307.4 64.8,307.5 65.8,307.4 66.8,307.5 67.8,307.6 68.8,307.7 69.8,307.2 70.8,307.3 71.8,307.5 72.8,307.6 73.8,308.4 74.8,308.5 75.8,308.0 76.8,308.1 77.8,308.4 78.8,308.4 79.8,308.5 80.8,308.5 81.8,308.8 82.8,308.9 83.8,309.3 84.8,311.5 85.8,314.0 86.8,316.2 87.8,318.1 88.8,320.4 89.8,323.1 90.8,325.3 91.8,326.7 92.8,327.6 93.8,327.9 94.8,328.8 95.8,330.2 96.8,331.0 97.8,331.4 98.8,331.8 99.8,332.3 100.8,332.7 101.8,333.1 102.8,333.5 103.8,334.7 104.8,335.1 105.8,334.9 106.8,335.3 107.8,335.3 108.8,335.4 109.8,335.7 110.8,335.8 111.8,335.5 112.8,335.6 113.8,335.8 114.8,335.9 115.8,335.7 116.8,335.8 117.8,335.7 118.8,335.7 119.8,336.2 120.8,336.2 121.8,336.1 122.8,336.1 123.8,336.1 124.8,336.0 125.8,336.2 126.8,336.1 127.8,335.9 128.8,335.9 129.8,335.8 130.8,335.8 131.8,336.1 132.8,336.0 133.8,335.9 134.8,335.7 135.8,335.6 136.8,335.4 137.8,334.6 138.8,334.5 139.8,334.8 140.8,334.6 141.8,333.8 142.8,333.6 143.8,334.0 144.8,333.8 145.8,333.4 146.8,333.2 147.8,333.3 148.8,333.2 149.8,333.1 150.8,332.8 151.8,332.3 152.8,332.1 153.8,331.8 154.8,331.6 155.8,331.2 156.8,330.9 157.8,330.6 158.8,330.4 159.8,330.1 160.8,329.8 161.8,329.8 162.8,329.5 163.8,329.3 164.8,329.0 165.8,328.4 166.8,328.2 167.8,328.0 168.8,327.8 169.8,327.3 170.8,327.0 171.8,327.1 172.8,326.8 173.8,326.6 174.8,326.4 175.8,325.9 176.8,325.6 177.8,326.0 178.8,325.8 179.8,325.2 180.8,325.0 181.8,325.2 182.8,325.1 183.8,324.6 184.8,324.5 185.8,324.6 186.8,324.5 187.8,324.1 188.8,324.0 189.8,324.2 190.8,324.1 191.8,324.0 192.8,323.9 193.8,324.0 194.8,323.9 195.8,323.3 196.8,323.1 197.8,323.1 198.8,323.0 199.8,323.3 200.8,323.1 201.8,323.2 202.8,323.1 203.8,322.1 204.8,322.0 205.8,321.5 206.8,321.3 207.8,321.8 208.8,321.7 209.8,321.5 210.8,321.4 211.8,321.1 212.8,321.0 213.8,320.8 214.8,320.7 215.8,320.5 216.8,320.4 217.8,320.3 218.8,320.2 219.8,320.2 220.8,320.1 221.8,320.3 222.8,320.2 223.8,320.0 224.8,319.9 225.8,319.7 226.8,319.6 227.8,319.5 228.8,319.4 229.8,319.6 230.8,319.5 231.8,318.9 232.8,318.7 233.8,318.5 234.8,318.4 235.8,318.3 236.8,318.2 237.8,318.1 238.8,317.9 239.8,318.0 240.8,317.8 241.8,317.5 242.8,317.4 243.8,317.0 244.8,316.8 245.8,317.3 246.8,317.2 247.8,316.4 248.8,316.2 249.8,316.3 250.8,316.2 251.8,315.9 252.8,315.7 253.8,315.7 254.8,315.5 255.8,315.3 256.8,315.1 257.8,315.0 258.8,314.9 259.8,314.9 260.8,314.6 261.8,313.6 262.8,313.3 263.8,313.6 264.8,313.3 265.8,313.5 266.8,313.2 267.8,312.4 268.8,312.1 269.8,311.4 270.8,311.1 271.8,311.1 272.8,310.8 273.8,310.7 274.8,310.4 275.8,310.1 276.8,309.6 277.8,309.0 278.8,308.5 279.8,308.0 280.8,307.5 281.8,306.8 282.8,306.3 283.8,306.1 284.8,305.9 285.8,305.8 286.8,305.6 287.8,305.4 288.8,305.2 289.8,305.1 290.8,304.9 291.8,304.3 292.8,304.1 293.8,303.9 294.8,303.7 295.8,304.2 296.8,303.9 297.8,303.2 298.8,303.0 299.8,302.5 300.8,302.2 301.8,302.4 302.8,302.1 303.8,301.8 304.8,301.5 305.8,300.6 306.8,300.3 307.8,300.3 308.8,300.0 309.8,299.4 310.8,299.0 311.8,299.0 312.8,298.7 313.8,298.8 314.8,298.7 315.8,298.8 316.8,298.9 317.8,298.7 318.8,298.8 319.8,298.9 320.8,299.0 321.8,299.3 322.8,299.3 323.8,298.9 324.8,298.8 325.8,299.3 326.8,299.2 327.8,299.4 328.8,299.3 329.8,299.1 330.8,299.0 331.8,299.0 332.8,299.0 333.8,298.8 334.8,298.7 335.8,298.1 336.8,298.1 337.8,298.7 338.8,298.6 339.8,298.5 340.8,298.4 341.8,298.3 342.8,298.2 343.8,297.3 344.8,297.2 345.8,298.2 346.8,298.1 347.8,297.7 348.8,297.6 349.8,297.5 350.8,297.4 351.8,296.9 352.8,296.8 353.8,296.8 354.8,296.8 355.8,296.7 356.8,296.7 357.8,296.8 358.8,296.8 359.8,296.7 360.8,296.7 361.8,296.4 362.8,296.6 363.8,297.6 364.8,297.8 365.8,297.7 366.8,297.9 367.8,298.2 368.8,298.4 369.8,298.8 370.8,298.9 371.8,298.5 372.8,298.6 373.8,298.7 374.8,298.7 375.8,299.1 376.8,299.2 377.8,299.3 378.8,299.3 379.8,298.8 380.8,298.9 381.8,299.0 382.8,299.0 383.8,299.0 384.8,299.1 385.8,299.4 386.8,299.4 387.8,299.3 388.8,299.2 389.8,299.2 390.8,299.2 391.8,299.1 392.8,299.0 393.8,299.7 394.8,300.1 395.8,300.5 396.8,300.9 397.8,301.1 398.8,301.5 399.8,302.0 400.8,302.5 401.8,303.5 402.8,304.2 403.8,304.9 404.8,305.6 405.8,306.0 406.8,306.7 407.8,307.0 408.8,307.6 409.8,307.9 410.8,308.0 411.8,308.0 412.8,308.1 413.8,308.1 414.8,308.2 415.8,308.7 416.8,308.9 417.8,309.1 418.8,309.5 419.8,309.9 420.8,310.3 421.8,311.1 422.8,311.5 423.8,311.2 424.8,311.6 425.8,312.3 426.8,312.6 427.8,313.3 428.8,313.6 429.8,313.7 430.8,314.0 431.8,314.8 432.8,315.0 433.8,314.6 434.8,314.8 435.8,315.2 436.8,315.4 437.8,315.2 438.8,315.4 439.8,315.6 440.8,315.8 441.8,316.0 442.8,316.1 443.8,315.8 444.8,315.9 445.8,316.4 446.8,316.5 447.8,316.9 448.8,317.0 449.8,316.9 450.8,317.0 451.8,317.3 452.8,317.4 453.8,317.2 454.8,317.3 455.8,317.1 456.8,317.0 457.8,317.1 458.8,317.0 459.8,316.9 460.8,316.7 461.8,316.3 462.8,315.8 463.8,315.3 464.8,314.7 465.8,314.3 466.8,313.6 467.8,313.7 468.8,313.7 469.8,313.4 470.8,313.4 471.8,313.6 472.8,313.6 473.8,313.5 474.8,313.6 475.8,313.3 476.8,313.3 477.8,313.7 478.8,313.7 479.8,313.5 480.8,313.6 481.8,313.6 482.8,313.7 483.8,313.8 484.8,313.9 485.8,313.6 486.8,313.7 487.8,314.3 488.8,314.3 489.8,314.6 490.8,314.7 491.8,315.3 492.8,315.3 493.8,314.7 494.8,314.8 495.8,314.4 496.8,314.5 497.8,315.7 498.8,315.8 499.8,315.7 500.8,315.8 501.8,316.1 502.8,316.3 503.8,316.2 504.8,316.4 505.8,316.9 506.8,317.0 507.8,316.3 508.8,316.5 509.8,317.1 510.8,317.3 511.8,317.0 512.8,317.2 513.8,317.7 514.8,317.9 515.8,318.0 516.8,318.2 517.8,318.7 518.8,318.9 519.8,319.1 520.8,319.3 521.8,319.0 522.8,319.2 523.8,320.1 524.8,320.3 525.8,319.7 526.8,319.9 527.8,320.2 528.8,320.2 529.8,320.2 530.8,320.2 531.8,320.6 532.8,320.6 533.8,320.4 534.8,320.4 535.8,320.6 536.8,320.6 537.8,320.9 538.8,320.9 539.8,320.5 540.8,320.5 541.8,320.3 542.8,320.3 543.8,320.5 544.8,320.5 545.8,320.1 546.8,320.1 547.8,320.4 548.8,320.4 549.8,320.6 550.8,320.6 551.8,320.6 552.8,320.6 553.8,320.5 554.8,320.5 555.8,320.3 556.8,320.3 557.8,319.9 558.8,320.0 559.8,320.4 560.8,320.5 561.8,320.8 562.8,320.9 563.8,321.0 564.8,321.1 565.8,321.1 566.8,321.2 567.8,321.3 568.8,321.4 569.8,321.2 570.8,321.3 571.8,321.8 572.8,321.9 573.8,322.0 574.8,322.2 575.8,322.5 576.8,322.7 577.8,322.6 578.8,322.8 579.8,323.5 580.8,323.7 581.8,323.2 582.8,323.0 583.8,322.6 584.8,322.3 585.8,322.4 586.8,322.2 587.8,322.1 588.8,321.8 589.8,321.3 590.8,321.3 591.8,321.8 592.8,321.8 593.8,321.8 594.8,321.8 595.8,321.8 596.8,321.8 597.8,321.7 598.8,321.7 599.8,321.4 600.8,321.4 601.8,321.1 602.8,321.1 603.8,321.4 604.8,321.4 605.8,321.5 606.8,321.5 607.8,321.4 608.8,321.4 609.8,321.3 610.8,321.3 611.8,322.0 612.8,322.0 613.8,321.6 614.8,321.6 615.8,321.6 616.8,321.6 617.8,321.5 618.8,321.5 619.8,321.4 620.8,321.4 621.8,321.9 622.8,321.9 623.8,321.7 624.8,321.7 625.8,321.4 626.8,321.4 627.8,321.5 628.8,321.5 629.8,321.6 630.8,321.6 631.8,321.8 632.8,321.8 633.8,321.8 634.8,321.8 635.8,321.6 636.8,321.6 637.8,321.9 638.8,321.9 639.8,321.3 640.8,321.2 641.8,320.9 642.8,320.8 643.8,321.0 644.8,320.9 645.8,320.8 646.8,320.5 647.8,320.5 648.8,320.2 649.8,320.0 650.8,319.8 651.8,319.6 652.8,319.4 653.8,318.6 654.8,318.3 655.8,318.6 656.8,318.7 657.8,318.2 658.8,318.4 659.8,319.3 660.8,319.5 661.8,319.9 662.8,320.2 663.8,320.3 664.8,320.6 665.8,320.7 666.8,320.9 667.8,321.6 668.8,321.8 669.8,321.9 670.2,321.9 670.2,350.7"/>
<polygon fill="url(#gE)" points="59.8,350.7 59.8,320.3 60.8,320.3 61.8,320.6 62.8,320.6 63.8,320.5 64.8,320.5 65.8,320.5 66.8,320.5 67.8,320.2 68.8,320.2 69.8,320.4 70.8,320.4 71.8,320.3 72.8,320.3 73.8,320.6 74.8,320.6 75.8,320.3 76.8,320.3 77.8,320.4 78.8,320.5 79.8,321.2 80.8,321.7 81.8,322.2 82.8,322.7 83.8,323.5 84.8,325.2 85.8,326.8 86.8,328.5 87.8,330.1 88.8,331.7 89.8,333.3 90.8,334.9 91.8,336.1 92.8,337.2 93.8,338.1 94.8,339.2 95.8,340.3 96.8,341.3 97.8,342.7 98.8,343.1 99.8,343.6 100.8,343.9 101.8,343.6 102.8,344.0 103.8,344.3 104.8,344.6 105.8,345.2 106.8,345.2 107.8,344.8 108.8,344.9 109.8,345.4 110.8,345.5 111.8,345.2 112.8,345.3 113.8,345.3 114.8,345.4 115.8,345.3 116.8,345.4 117.8,346.1 118.8,346.1 119.8,345.1 120.8,345.1 121.8,345.8 122.8,345.8 123.8,345.8 124.8,345.7 125.8,345.2 126.8,345.1 127.8,345.6 128.8,345.5 129.8,344.9 130.8,344.9 131.8,345.1 132.8,345.1 133.8,344.9 134.8,344.8 135.8,344.6 136.8,344.5 137.8,344.4 138.8,344.2 139.8,344.1 140.8,343.9 141.8,343.3 142.8,343.1 143.8,343.2 144.8,343.0 145.8,343.0 146.8,342.9 147.8,342.7 148.8,342.5 149.8,342.2 150.8,341.9 151.8,341.9 152.8,341.7 153.8,341.6 154.8,341.4 155.8,341.2 156.8,340.9 157.8,340.3 158.8,340.1 159.8,340.0 160.8,339.7 161.8,339.8 162.8,339.5 163.8,339.1 164.8,338.8 165.8,338.8 166.8,338.7 167.8,338.4 168.8,338.3 169.8,338.1 170.8,338.0 171.8,337.9 172.8,337.8 173.8,337.9 174.8,337.8 175.8,337.4 176.8,337.3 177.8,337.1 178.8,337.0 179.8,336.9 180.8,336.8 181.8,336.9 182.8,336.9 183.8,336.6 184.8,336.5 185.8,336.6 186.8,336.6 187.8,336.3 188.8,336.3 189.8,336.7 190.8,336.6 191.8,336.2 192.8,336.2 193.8,335.9 194.8,335.8 195.8,335.8 196.8,335.7 197.8,336.1 198.8,336.0 199.8,335.4 200.8,335.3 201.8,335.5 202.8,335.4 203.8,335.0 204.8,334.9 205.8,334.8 206.8,334.8 207.8,334.9 208.8,334.8 209.8,334.7 210.8,334.6 211.8,335.1 212.8,335.0 213.8,334.5 214.8,334.4 215.8,333.8 216.8,333.7 217.8,333.8 218.8,333.7 219.8,333.7 220.8,333.6 221.8,333.9 222.8,333.8 223.8,333.3 224.8,333.2 225.8,333.5 226.8,333.4 227.8,332.7 228.8,332.7 229.8,333.2 230.8,333.1 231.8,332.4 232.8,332.3 233.8,332.2 234.8,332.1 235.8,332.2 236.8,332.1 237.8,331.3 238.8,331.2 239.8,331.9 240.8,331.8 241.8,331.8 242.8,331.7 243.8,331.4 244.8,331.2 245.8,330.6 246.8,330.4 247.8,330.4 248.8,330.3 249.8,330.8 250.8,330.6 251.8,330.1 252.8,330.0 253.8,329.7 254.8,329.5 255.8,329.4 256.8,329.3 257.8,329.5 258.8,329.4 259.8,329.0 260.8,328.8 261.8,328.6 262.8,328.4 263.8,327.7 264.8,327.5 265.8,327.5 266.8,327.4 267.8,327.4 268.8,327.3 269.8,327.4 270.8,327.2 271.8,326.5 272.8,326.3 273.8,326.2 274.8,326.0 275.8,325.9 276.8,325.6 277.8,325.0 278.8,324.7 279.8,324.8 280.8,324.5 281.8,324.1 282.8,323.8 283.8,323.9 284.8,323.8 285.8,323.7 286.8,323.6 287.8,322.9 288.8,322.8 289.8,322.9 290.8,322.8 291.8,323.1 292.8,322.9 293.8,322.5 294.8,322.3 295.8,322.3 296.8,322.1 297.8,321.3 298.8,321.1 299.8,320.8 300.8,320.6 301.8,320.1 302.8,319.9 303.8,319.9 304.8,319.7 305.8,319.8 306.8,319.5 307.8,318.9 308.8,318.7 309.8,318.8 310.8,318.5 311.8,318.1 312.8,317.8 313.8,317.5 314.8,317.4 315.8,317.8 316.8,317.8 317.8,317.8 318.8,317.9 319.8,317.9 320.8,318.0 321.8,318.0 322.8,318.0 323.8,318.6 324.8,318.6 325.8,318.1 326.8,318.1 327.8,318.3 328.8,318.3 329.8,318.3 330.8,318.3 331.8,318.2 332.8,318.2 333.8,318.3 334.8,318.3 335.8,317.7 336.8,317.7 337.8,318.6 338.8,318.5 339.8,317.9 340.8,317.9 341.8,317.7 342.8,317.7 343.8,317.7 344.8,317.7 345.8,317.5 346.8,317.5 347.8,317.7 348.8,317.7 349.8,317.2 350.8,317.2 351.8,317.5 352.8,317.5 353.8,317.0 354.8,316.9 355.8,316.9 356.8,316.8 357.8,317.2 358.8,317.1 359.8,316.8 360.8,316.7 361.8,316.7 362.8,316.8 363.8,316.8 364.8,316.9 365.8,316.9 366.8,317.0 367.8,316.8 368.8,317.0 369.8,317.3 370.8,317.4 371.8,317.5 372.8,317.5 373.8,316.7 374.8,316.7 375.8,317.4 376.8,317.4 377.8,317.4 378.8,317.5 379.8,317.3 380.8,317.3 381.8,317.5 382.8,317.5 383.8,317.5 384.8,317.6 385.8,317.9 386.8,317.8 387.8,317.6 388.8,317.4 389.8,316.8 390.8,316.6 391.8,317.1 392.8,317.0 393.8,317.0 394.8,317.3 395.8,317.0 396.8,317.3 397.8,318.2 398.8,318.4 399.8,318.6 400.8,318.9 401.8,319.5 402.8,320.0 403.8,320.8 404.8,321.3 405.8,321.8 406.8,322.3 407.8,322.7 408.8,323.2 409.8,322.7 410.8,322.7 411.8,322.8 412.8,322.8 413.8,322.9 414.8,322.9 415.8,322.9 416.8,323.0 417.8,323.1 418.8,323.2 419.8,324.0 420.8,324.1 421.8,323.6 422.8,323.8 423.8,323.9 424.8,324.1 425.8,324.3 426.8,324.5 427.8,325.3 428.8,325.6 429.8,325.7 430.8,325.9 431.8,326.4 432.8,326.5 433.8,326.4 434.8,326.5 435.8,327.1 436.8,327.2 437.8,326.9 438.8,327.0 439.8,328.0 440.8,328.1 441.8,327.8 442.8,327.8 443.8,327.2 444.8,327.2 445.8,327.7 446.8,327.7 447.8,327.7 448.8,327.7 449.8,327.6 450.8,327.6 451.8,327.4 452.8,327.4 453.8,327.9 454.8,327.9 455.8,327.5 456.8,327.4 457.8,327.7 458.8,327.7 459.8,327.2 460.8,327.2 461.8,327.1 462.8,326.8 463.8,326.6 464.8,326.2 465.8,325.8 466.8,325.4 467.8,324.9 468.8,324.9 469.8,325.1 470.8,325.1 471.8,325.2 472.8,325.2 473.8,325.2 474.8,325.2 475.8,324.9 476.8,324.9 477.8,325.2 478.8,325.2 479.8,325.1 480.8,325.2 481.8,325.7 482.8,325.7 483.8,325.9 484.8,326.0 485.8,325.7 486.8,325.8 487.8,325.7 488.8,325.7 489.8,325.7 490.8,325.8 491.8,325.9 492.8,325.9 493.8,326.4 494.8,326.5 495.8,326.3 496.8,326.4 497.8,325.8 498.8,325.8 499.8,326.5 500.8,326.6 501.8,327.2 502.8,327.3 503.8,327.1 504.8,327.2 505.8,327.0 506.8,327.1 507.8,327.2 508.8,327.3 509.8,327.1 510.8,327.2 511.8,327.6 512.8,327.8 513.8,328.1 514.8,328.3 515.8,328.3 516.8,328.5 517.8,328.7 518.8,328.8 519.8,328.5 520.8,328.7 521.8,328.8 522.8,328.9 523.8,329.6 524.8,329.8 525.8,329.1 526.8,329.2 527.8,329.5 528.8,329.4 529.8,329.7 530.8,329.6 531.8,329.6 532.8,329.6 533.8,329.5 534.8,329.5 535.8,329.2 536.8,329.1 537.8,329.3 538.8,329.3 539.8,329.5 540.8,329.4 541.8,329.4 542.8,329.4 543.8,329.5 544.8,329.4 545.8,329.3 546.8,329.3 547.8,329.2 548.8,329.2 549.8,329.2 550.8,329.2 551.8,329.1 552.8,329.1 553.8,328.6 554.8,328.6 555.8,329.2 556.8,329.2 557.8,328.8 558.8,328.9 559.8,329.1 560.8,329.2 561.8,329.6 562.8,329.7 563.8,329.6 564.8,329.7 565.8,329.6 566.8,329.7 567.8,330.1 568.8,330.2 569.8,330.2 570.8,330.3 571.8,330.3 572.8,330.4 573.8,331.2 574.8,331.3 575.8,331.3 576.8,331.4 577.8,330.9 578.8,331.0 579.8,331.1 580.8,331.2 581.8,330.8 582.8,330.5 583.8,330.7 584.8,330.5 585.8,330.4 586.8,330.1 587.8,329.6 588.8,329.4 589.8,329.4 590.8,329.5 591.8,330.0 592.8,330.1 593.8,329.9 594.8,329.9 595.8,329.8 596.8,329.8 597.8,329.9 598.8,329.9 599.8,330.0 600.8,330.0 601.8,329.9 602.8,330.0 603.8,329.9 604.8,329.9 605.8,330.1 606.8,330.2 607.8,330.0 608.8,330.1 609.8,330.2 610.8,330.3 611.8,330.9 612.8,331.0 613.8,330.9 614.8,331.0 615.8,330.9 616.8,331.0 617.8,331.0 618.8,331.1 619.8,331.5 620.8,331.6 621.8,332.0 622.8,332.0 623.8,331.6 624.8,331.6 625.8,331.7 626.8,331.8 627.8,332.1 628.8,332.2 629.8,331.8 630.8,331.9 631.8,332.1 632.8,332.1 633.8,332.0 634.8,332.0 635.8,332.2 636.8,332.3 637.8,332.0 638.8,331.9 639.8,331.7 640.8,331.5 641.8,331.3 642.8,331.1 643.8,331.4 644.8,331.2 645.8,330.0 646.8,329.9 647.8,330.7 648.8,330.6 649.8,330.7 650.8,330.5 651.8,330.0 652.8,329.9 653.8,330.2 654.8,330.1 655.8,329.3 656.8,329.5 657.8,330.1 658.8,330.4 659.8,330.3 660.8,330.5 661.8,331.1 662.8,331.4 663.8,331.4 664.8,331.7 665.8,332.0 666.8,332.2 667.8,332.3 668.8,332.6 669.8,332.7 670.2,332.7 670.2,350.7"/>
<polygon fill="url(#gD)" points="59.8,350.7 59.8,340.4 60.8,340.4 61.8,339.8 62.8,339.8 63.8,339.7 64.8,339.7 65.8,340.1 66.8,340.1 67.8,340.2 68.8,340.2 69.8,340.3 70.8,340.3 71.8,340.1 72.8,340.1 73.8,340.3 74.8,340.3 75.8,340.4 76.8,340.4 77.8,340.2 78.8,340.3 79.8,340.8 80.8,341.2 81.8,341.7 82.8,342.2 83.8,342.9 84.8,343.4 85.8,343.6 86.8,344.0 87.8,344.3 88.8,344.7 89.8,345.1 90.8,345.5 91.8,346.0 92.8,346.4 93.8,346.9 94.8,347.1 95.8,347.2 96.8,347.3 97.8,347.4 98.8,347.5 99.8,347.9 100.8,348.0 101.8,347.6 102.8,347.7 103.8,347.8 104.8,347.9 105.8,348.2 106.8,348.3 107.8,348.1 108.8,348.2 109.8,348.6 110.8,348.6 111.8,348.4 112.8,348.4 113.8,348.5 114.8,348.5 115.8,348.4 116.8,348.4 117.8,348.3 118.8,348.3 119.8,348.4 120.8,348.4 121.8,348.1 122.8,348.1 123.8,348.4 124.8,348.4 125.8,348.3 126.8,348.3 127.8,348.1 128.8,348.1 129.8,348.3 130.8,348.2 131.8,348.0 132.8,348.0 133.8,348.2 134.8,348.2 135.8,348.2 136.8,348.2 137.8,348.2 138.8,348.2 139.8,348.4 140.8,348.4 141.8,348.1 142.8,348.1 143.8,348.2 144.8,348.2 145.8,348.3 146.8,348.3 147.8,348.0 148.8,348.0 149.8,348.0 150.8,348.0 151.8,348.0 152.8,347.9 153.8,347.9 154.8,347.8 155.8,347.6 156.8,347.5 157.8,347.5 158.8,347.4 159.8,347.2 160.8,347.1 161.8,347.1 162.8,347.0 163.8,347.0 164.8,346.9 165.8,346.8 166.8,346.7 167.8,346.8 168.8,346.8 169.8,346.6 170.8,346.6 171.8,346.7 172.8,346.6 173.8,346.5 174.8,346.4 175.8,346.5 176.8,346.4 177.8,346.5 178.8,346.5 179.8,346.5 180.8,346.4 181.8,346.4 182.8,346.4 183.8,346.1 184.8,346.0 185.8,345.9 186.8,345.8 187.8,346.0 188.8,345.9 189.8,345.7 190.8,345.6 191.8,345.7 192.8,345.6 193.8,345.8 194.8,345.7 195.8,345.6 196.8,345.6 197.8,345.6 198.8,345.5 199.8,345.0 200.8,344.9 201.8,345.1 202.8,345.0 203.8,345.1 204.8,345.1 205.8,344.9 206.8,344.8 207.8,344.4 208.8,344.3 209.8,344.4 210.8,344.4 211.8,344.1 212.8,344.0 213.8,344.2 214.8,344.2 215.8,344.1 216.8,344.1 217.8,344.1 218.8,344.0 219.8,344.1 220.8,344.1 221.8,343.9 222.8,343.8 223.8,343.9 224.8,343.8 225.8,343.8 226.8,343.7 227.8,343.5 228.8,343.4 229.8,343.4 230.8,343.3 231.8,342.8 232.8,342.8 233.8,343.0 234.8,342.9 235.8,342.8 236.8,342.8 237.8,342.9 238.8,342.9 239.8,342.9 240.8,342.9 241.8,342.6 242.8,342.6 243.8,342.3 244.8,342.3 245.8,342.4 246.8,342.3 247.8,342.2 248.8,342.1 249.8,342.0 250.8,341.9 251.8,342.1 252.8,342.0 253.8,341.7 254.8,341.7 255.8,341.9 256.8,341.9 257.8,341.6 258.8,341.5 259.8,341.6 260.8,341.6 261.8,341.5 262.8,341.4 263.8,341.2 264.8,341.1 265.8,341.2 266.8,341.2 267.8,341.2 268.8,341.1 269.8,341.0 270.8,340.9 271.8,341.0 272.8,340.9 273.8,340.6 274.8,340.5 275.8,340.9 276.8,340.8 277.8,340.6 278.8,340.5 279.8,340.5 280.8,340.5 281.8,340.6 282.8,340.5 283.8,340.2 284.8,340.2 285.8,340.1 286.8,340.1 287.8,340.0 288.8,339.9 289.8,339.9 290.8,339.8 291.8,339.7 292.8,339.7 293.8,339.9 294.8,339.8 295.8,339.7 296.8,339.7 297.8,339.3 298.8,339.3 299.8,339.3 300.8,339.2 301.8,339.2 302.8,339.1 303.8,339.1 304.8,339.0 305.8,338.8 306.8,338.7 307.8,338.5 308.8,338.5 309.8,338.6 310.8,338.5 311.8,338.2 312.8,338.1 313.8,338.3 314.8,338.3 315.8,338.3 316.8,338.3 317.8,338.4 318.8,338.4 319.8,338.5 320.8,338.6 321.8,338.6 322.8,338.6 323.8,338.8 324.8,338.8 325.8,338.6 326.8,338.6 327.8,339.1 328.8,339.1 329.8,338.9 330.8,338.9 331.8,338.9 332.8,338.9 333.8,338.7 334.8,338.8 335.8,339.0 336.8,339.0 337.8,339.3 338.8,339.2 339.8,338.9 340.8,338.8 341.8,338.6 342.8,338.5 343.8,338.1 344.8,338.0 345.8,338.1 346.8,338.0 347.8,338.1 348.8,338.0 349.8,337.9 350.8,337.8 351.8,337.9 352.8,337.8 353.8,337.6 354.8,337.6 355.8,337.4 356.8,337.4 357.8,337.5 358.8,337.5 359.8,337.4 360.8,337.4 361.8,337.4 362.8,337.4 363.8,337.4 364.8,337.6 365.8,338.0 366.8,338.2 367.8,338.3 368.8,338.5 369.8,338.6 370.8,338.7 371.8,338.8 372.8,338.9 373.8,338.9 374.8,338.9 375.8,338.8 376.8,338.7 377.8,338.7 378.8,338.6 379.8,338.9 380.8,338.8 381.8,338.4 382.8,338.3 383.8,338.4 384.8,338.4 385.8,338.3 386.8,338.1 387.8,337.8 388.8,337.7 389.8,337.3 390.8,337.1 391.8,337.3 392.8,337.1 393.8,337.2 394.8,337.5 395.8,337.7 396.8,337.9 397.8,338.2 398.8,338.4 399.8,338.7 400.8,339.0 401.8,339.1 402.8,339.2 403.8,339.3 404.8,339.4 405.8,339.2 406.8,339.3 407.8,339.5 408.8,339.6 409.8,340.1 410.8,340.2 411.8,340.2 412.8,340.3 413.8,340.3 414.8,340.4 415.8,340.7 416.8,340.8 417.8,340.7 418.8,340.8 419.8,340.7 420.8,340.8 421.8,341.1 422.8,341.2 423.8,341.5 424.8,341.6 425.8,341.4 426.8,341.5 427.8,341.8 428.8,341.9 429.8,341.6 430.8,341.7 431.8,342.2 432.8,342.2 433.8,342.2 434.8,342.3 435.8,342.6 436.8,342.6 437.8,342.4 438.8,342.5 439.8,342.7 440.8,342.7 441.8,342.6 442.8,342.7 443.8,342.9 444.8,343.0 445.8,343.0 446.8,343.0 447.8,342.9 448.8,343.0 449.8,343.0 450.8,343.1 451.8,343.2 452.8,343.2 453.8,343.4 454.8,343.5 455.8,343.4 456.8,343.5 457.8,343.7 458.8,343.7 459.8,343.7 460.8,343.4 461.8,343.1 462.8,342.6 463.8,341.8 464.8,341.3 465.8,341.2 466.8,340.8 467.8,340.9 468.8,341.0 469.8,341.1 470.8,341.3 471.8,341.1 472.8,341.2 473.8,341.7 474.8,341.9 475.8,341.6 476.8,341.7 477.8,341.8 478.8,341.9 479.8,342.3 480.8,342.3 481.8,342.3 482.8,342.3 483.8,341.9 484.8,341.9 485.8,342.3 486.8,342.3 487.8,342.4 488.8,342.4 489.8,342.4 490.8,342.4 491.8,342.8 492.8,342.8 493.8,342.4 494.8,342.4 495.8,342.6 496.8,342.7 497.8,342.9 498.8,343.0 499.8,342.7 500.8,342.8 501.8,342.8 502.8,342.9 503.8,343.2 504.8,343.2 505.8,343.2 506.8,343.3 507.8,343.5 508.8,343.6 509.8,343.7 510.8,343.7 511.8,343.4 512.8,343.4 513.8,343.3 514.8,343.3 515.8,343.2 516.8,343.2 517.8,343.3 518.8,343.3 519.8,343.8 520.8,343.9 521.8,343.7 522.8,343.7 523.8,343.9 524.8,343.9 525.8,343.9 526.8,343.9 527.8,343.7 528.8,343.7 529.8,344.1 530.8,344.1 531.8,344.0 532.8,344.0 533.8,343.8 534.8,343.8 535.8,343.6 536.8,343.6 537.8,343.8 538.8,343.8 539.8,343.7 540.8,343.7 541.8,343.8 542.8,343.8 543.8,344.2 544.8,344.2 545.8,343.9 546.8,343.9 547.8,344.0 548.8,344.0 549.8,344.0 550.8,344.0 551.8,343.8 552.8,343.8 553.8,343.9 554.8,343.9 555.8,343.9 556.8,343.9 557.8,343.9 558.8,344.0 559.8,344.2 560.8,344.3 561.8,344.2 562.8,344.2 563.8,344.1 564.8,344.1 565.8,344.3 566.8,344.4 567.8,344.5 568.8,344.5 569.8,344.5 570.8,344.6 571.8,344.5 572.8,344.6 573.8,344.9 574.8,344.8 575.8,344.2 576.8,344.2 577.8,344.3 578.8,344.3 579.8,344.4 580.8,344.3 581.8,344.1 582.8,344.0 583.8,343.7 584.8,343.7 585.8,343.8 586.8,343.8 587.8,343.7 588.8,343.6 589.8,343.4 590.8,343.4 591.8,343.4 592.8,343.4 593.8,343.3 594.8,343.3 595.8,343.7 596.8,343.7 597.8,343.6 598.8,343.6 599.8,343.5 600.8,343.6 601.8,343.7 602.8,343.7 603.8,343.9 604.8,343.9 605.8,343.6 606.8,343.6 607.8,343.8 608.8,343.8 609.8,343.6 610.8,343.6 611.8,343.5 612.8,343.5 613.8,343.7 614.8,343.6 615.8,343.4 616.8,343.4 617.8,343.6 618.8,343.6 619.8,343.4 620.8,343.4 621.8,343.5 622.8,343.5 623.8,343.6 624.8,343.6 625.8,343.8 626.8,343.9 627.8,343.8 628.8,343.9 629.8,344.2 630.8,344.3 631.8,344.2 632.8,344.2 633.8,344.2 634.8,344.2 635.8,344.3 636.8,344.3 637.8,344.4 638.8,344.3 639.8,344.1 640.8,344.0 641.8,343.7 642.8,343.6 643.8,343.6 644.8,343.5 645.8,343.3 646.8,343.2 647.8,343.2 648.8,343.1 649.8,342.9 650.8,342.8 651.8,342.9 652.8,342.8 653.8,342.4 654.8,342.3 655.8,341.9 656.8,341.8 657.8,342.0 658.8,342.2 659.8,342.7 660.8,342.9 661.8,342.8 662.8,343.0 663.8,343.1 664.8,343.3 665.8,343.6 666.8,343.8 667.8,344.4 668.8,344.6 669.8,344.4 670.2,344.4 670.2,350.7"/>
<polygon fill="url(#gC)" points="59.8,350.7 59.8,345.3 60.8,345.3 61.8,345.8 62.8,345.8 63.8,345.7 64.8,345.8 65.8,345.9 66.8,346.0 67.8,345.8 68.8,345.8 69.8,345.8 70.8,345.8 71.8,345.9 72.8,345.9 73.8,346.0 74.8,346.0 75.8,346.0 76.8,346.1 77.8,346.0 78.8,346.1 79.8,346.5 80.8,346.7 81.8,347.1 82.8,347.3 83.8,347.5 84.8,347.8 85.8,348.3 86.8,348.6 87.8,348.9 88.8,349.1 89.8,349.1 90.8,349.2 91.8,349.3 92.8,349.3 93.8,349.4 94.8,349.5 95.8,349.5 96.8,349.6 97.8,349.6 98.8,349.7 99.8,349.8 100.8,349.8 101.8,349.8 102.8,349.8 103.8,349.9 104.8,349.9 105.8,349.9 106.8,349.9 107.8,350.1 108.8,350.1 109.8,349.8 110.8,349.8 111.8,349.9 112.8,349.9 113.8,349.9 114.8,349.9 115.8,349.9 116.8,349.9 117.8,349.9 118.8,349.9 119.8,349.8 120.8,349.8 121.8,349.7 122.8,349.7 123.8,349.7 124.8,349.6 125.8,349.7 126.8,349.7 127.8,349.7 128.8,349.7 129.8,349.7 130.8,349.7 131.8,349.4 132.8,349.4 133.8,349.7 134.8,349.7 135.8,349.7 136.8,349.7 137.8,349.5 138.8,349.4 139.8,349.3 140.8,349.3 141.8,349.6 142.8,349.6 143.8,349.7 144.8,349.7 145.8,349.7 146.8,349.7 147.8,349.6 148.8,349.6 149.8,349.8 150.8,349.7 151.8,349.5 152.8,349.5 153.8,349.3 154.8,349.2 155.8,349.2 156.8,349.1 157.8,349.1 158.8,349.1 159.8,348.9 160.8,348.8 161.8,348.7 162.8,348.6 163.8,348.4 164.8,348.4 165.8,348.6 166.8,348.5 167.8,348.4 168.8,348.4 169.8,348.6 170.8,348.5 171.8,348.6 172.8,348.6 173.8,348.5 174.8,348.5 175.8,348.5 176.8,348.5 177.8,348.3 178.8,348.3 179.8,348.4 180.8,348.4 181.8,348.2 182.8,348.2 183.8,348.2 184.8,348.1 185.8,348.3 186.8,348.3 187.8,348.1 188.8,348.1 189.8,347.7 190.8,347.7 191.8,348.2 192.8,348.2 193.8,347.9 194.8,347.9 195.8,347.9 196.8,347.9 197.8,347.9 198.8,347.8 199.8,347.9 200.8,347.9 201.8,347.8 202.8,347.8 203.8,347.9 204.8,347.9 205.8,347.7 206.8,347.7 207.8,347.7 208.8,347.7 209.8,347.6 210.8,347.6 211.8,347.4 212.8,347.4 213.8,347.2 214.8,347.2 215.8,347.4 216.8,347.3 217.8,347.2 218.8,347.1 219.8,347.3 220.8,347.2 221.8,347.1 222.8,347.1 223.8,347.2 224.8,347.1 225.8,347.1 226.8,347.1 227.8,347.0 228.8,347.0 229.8,347.0 230.8,346.9 231.8,346.5 232.8,346.4 233.8,346.6 234.8,346.6 235.8,346.7 236.8,346.7 237.8,346.6 238.8,346.5 239.8,346.6 240.8,346.6 241.8,346.4 242.8,346.3 243.8,346.3 244.8,346.2 245.8,346.1 246.8,346.1 247.8,345.9 248.8,345.9 249.8,346.0 250.8,346.0 251.8,346.0 252.8,346.0 253.8,345.7 254.8,345.6 255.8,345.7 256.8,345.6 257.8,345.5 258.8,345.5 259.8,345.6 260.8,345.5 261.8,345.3 262.8,345.3 263.8,344.9 264.8,344.8 265.8,345.0 266.8,344.9 267.8,344.9 268.8,344.8 269.8,344.9 270.8,344.8 271.8,344.4 272.8,344.3 273.8,344.6 274.8,344.5 275.8,344.4 276.8,344.4 277.8,344.0 278.8,344.0 279.8,344.2 280.8,344.2 281.8,344.3 282.8,344.3 283.8,344.1 284.8,344.1 285.8,343.8 286.8,343.8 287.8,344.1 288.8,344.0 289.8,343.7 290.8,343.7 291.8,343.4 292.8,343.4 293.8,343.4 294.8,343.4 295.8,343.6 296.8,343.5 297.8,343.2 298.8,343.1 299.8,343.3 300.8,343.3 301.8,342.9 302.8,342.8 303.8,343.1 304.8,343.0 305.8,342.7 306.8,342.6 307.8,342.7 308.8,342.6 309.8,342.5 310.8,342.4 311.8,342.5 312.8,342.4 313.8,342.2 314.8,342.3 315.8,342.5 316.8,342.6 317.8,342.7 318.8,342.8 319.8,342.9 320.8,343.0 321.8,343.1 322.8,343.2 323.8,343.4 324.8,343.6 325.8,343.5 326.8,343.6 327.8,343.8 328.8,343.9 329.8,343.9 330.8,344.0 331.8,344.1 332.8,344.2 333.8,344.3 334.8,344.4 335.8,344.5 336.8,344.4 337.8,344.4 338.8,344.3 339.8,344.0 340.8,343.9 341.8,344.0 342.8,343.9 343.8,343.8 344.8,343.7 345.8,343.7 346.8,343.7 347.8,343.6 348.8,343.5 349.8,343.2 350.8,343.1 351.8,343.2 352.8,343.1 353.8,342.6 354.8,342.7 355.8,343.1 356.8,343.2 357.8,343.2 358.8,343.2 359.8,343.3 360.8,343.3 361.8,343.4 362.8,343.4 363.8,343.4 364.8,343.4 365.8,343.4 366.8,343.4 367.8,343.6 368.8,343.6 369.8,343.7 370.8,343.7 371.8,343.8 372.8,343.9 373.8,343.8 374.8,343.7 375.8,343.4 376.8,343.3 377.8,343.6 378.8,343.6 379.8,343.4 380.8,343.4 381.8,343.0 382.8,343.0 383.8,343.0 384.8,342.9 385.8,342.8 386.8,342.7 387.8,342.8 388.8,342.7 389.8,342.6 390.8,342.5 391.8,342.4 392.8,342.3 393.8,342.4 394.8,342.6 395.8,342.6 396.8,342.7 397.8,342.8 398.8,342.9 399.8,343.1 400.8,343.2 401.8,343.5 402.8,343.7 403.8,343.8 404.8,343.9 405.8,344.1 406.8,344.2 407.8,344.3 408.8,344.4 409.8,344.5 410.8,344.7 411.8,344.9 412.8,345.0 413.8,345.1 414.8,345.2 415.8,345.3 416.8,345.4 417.8,345.6 418.8,345.7 419.8,345.8 420.8,345.9 421.8,345.8 422.8,345.8 423.8,346.0 424.8,346.1 425.8,346.1 426.8,346.2 427.8,346.2 428.8,346.2 429.8,346.2 430.8,346.3 431.8,346.4 432.8,346.4 433.8,346.5 434.8,346.6 435.8,346.8 436.8,346.8 437.8,346.8 438.8,346.9 439.8,347.0 440.8,347.1 441.8,347.3 442.8,347.3 443.8,346.9 444.8,346.9 445.8,347.3 446.8,347.4 447.8,347.3 448.8,347.4 449.8,347.4 450.8,347.4 451.8,347.7 452.8,347.8 453.8,347.8 454.8,347.8 455.8,347.6 456.8,347.6 457.8,347.6 458.8,347.7 459.8,347.7 460.8,347.5 461.8,347.1 462.8,346.8 463.8,346.6 464.8,346.3 465.8,346.2 466.8,345.9 467.8,345.9 468.8,345.9 469.8,346.0 470.8,346.0 471.8,346.1 472.8,346.2 473.8,346.5 474.8,346.5 475.8,346.4 476.8,346.5 477.8,346.4 478.8,346.4 479.8,346.5 480.8,346.5 481.8,346.5 482.8,346.5 483.8,346.5 484.8,346.5 485.8,346.5 486.8,346.5 487.8,346.6 488.8,346.6 489.8,346.7 490.8,346.7 491.8,346.6 492.8,346.6 493.8,346.4 494.8,346.4 495.8,346.5 496.8,346.5 497.8,346.5 498.8,346.5 499.8,346.7 500.8,346.7 501.8,346.7 502.8,346.7 503.8,346.4 504.8,346.4 505.8,346.7 506.8,346.8 507.8,346.9 508.8,346.9 509.8,346.9 510.8,347.0 511.8,346.9 512.8,346.9 513.8,346.8 514.8,346.8 515.8,346.9 516.8,346.9 517.8,346.9 518.8,346.9 519.8,346.8 520.8,346.8 521.8,346.8 522.8,346.8 523.8,346.9 524.8,346.9 525.8,346.7 526.8,346.7 527.8,346.6 528.8,346.6 529.8,346.7 530.8,346.7 531.8,346.9 532.8,346.9 533.8,347.0 534.8,347.0 535.8,346.7 536.8,346.7 537.8,347.0 538.8,347.0 539.8,347.0 540.8,347.0 541.8,346.5 542.8,346.5 543.8,347.0 544.8,347.0 545.8,346.9 546.8,346.9 547.8,346.6 548.8,346.6 549.8,346.7 550.8,346.7 551.8,346.7 552.8,346.7 553.8,346.9 554.8,346.9 555.8,346.6 556.8,346.6 557.8,346.8 558.8,346.8 559.8,346.5 560.8,346.5 561.8,346.9 562.8,346.8 563.8,346.5 564.8,346.5 565.8,346.6 566.8,346.6 567.8,346.8 568.8,346.7 569.8,346.8 570.8,346.7 571.8,346.7 572.8,346.7 573.8,346.8 574.8,346.7 575.8,347.0 576.8,346.9 577.8,346.3 578.8,346.3 579.8,346.5 580.8,346.5 581.8,346.6 582.8,346.6 583.8,346.8 584.8,346.8 585.8,346.6 586.8,346.6 587.8,346.5 588.8,346.5 589.8,346.5 590.8,346.5 591.8,346.6 592.8,346.6 593.8,346.6 594.8,346.5 595.8,346.6 596.8,346.6 597.8,346.4 598.8,346.4 599.8,346.4 600.8,346.4 601.8,346.3 602.8,346.3 603.8,346.3 604.8,346.3 605.8,346.3 606.8,346.2 607.8,346.1 608.8,346.1 609.8,346.2 610.8,346.2 611.8,346.0 612.8,345.9 613.8,346.0 614.8,346.0 615.8,346.0 616.8,345.9 617.8,346.0 618.8,345.9 619.8,345.7 620.8,345.6 621.8,345.7 622.8,345.7 623.8,345.8 624.8,345.9 625.8,345.9 626.8,345.9 627.8,345.8 628.8,345.8 629.8,345.9 630.8,346.0 631.8,345.7 632.8,345.7 633.8,345.9 634.8,346.0 635.8,345.6 636.8,345.6 637.8,345.9 638.8,345.8 639.8,345.9 640.8,345.8 641.8,345.7 642.8,345.6 643.8,345.4 644.8,345.4 645.8,345.2 646.8,345.1 647.8,345.4 648.8,345.4 649.8,345.1 650.8,345.1 651.8,345.1 652.8,345.1 653.8,345.0 654.8,344.9 655.8,344.8 656.8,344.7 657.8,345.0 658.8,345.1 659.8,344.9 660.8,345.0 661.8,345.1 662.8,345.1 663.8,345.2 664.8,345.3 665.8,345.2 666.8,345.2 667.8,345.4 668.8,345.5 669.8,345.8 670.2,345.8 670.2,350.7"/>
<rect x="59" y="350.6" width="612" height="1.5" fill="#adbbd6"/>
<rect x="59" y="352.0" width="612" height="0.7" fill="#8c8c8c"/>
<rect x="162.3" y="352" width="1" height="3" fill="#d9d9d9"/>
<rect x="265.3" y="352" width="1" height="3" fill="#d9d9d9"/>
<rect x="368.3" y="352" width="1" height="3" fill="#d9d9d9"/>
<rect x="471.3" y="352" width="1" height="3" fill="#d9d9d9"/>
<rect x="574.3" y="352" width="1" height="3" fill="#d9d9d9"/>
<rect x="15.5" y="399.3" width="7.4" height="7.5" fill="#3a74ba"/><rect x="134.5" y="399.3" width="7.4" height="7.5" fill="#c23b2e"/><rect x="229.3" y="399.3" width="7.4" height="7.5" fill="#90b840"/><rect x="316.3" y="399.3" width="7.4" height="7.5" fill="#7d48a2"/><rect x="408.3" y="399.3" width="7.4" height="7.5" fill="#2aa6c9"/><rect x="490.3" y="399.3" width="7.4" height="7.5" fill="#ec8527"/><rect x="565.5" y="399.3" width="7.4" height="7.5" fill="#20508f"/><rect x="640.5" y="399.3" width="7.4" height="7.5" fill="#7b1f1a"/>
</svg>
<div class="yl" style="top:52.1px">1000</div><div class="yl" style="top:81.2px">900</div><div class="yl" style="top:110.2px">800</div><div class="yl" style="top:139.2px">700</div><div class="yl" style="top:168.3px">600</div><div class="yl" style="top:197.3px">500</div><div class="yl" style="top:226.4px">400</div><div class="yl" style="top:255.4px">300</div><div class="yl" style="top:284.5px">200</div><div class="yl" style="top:313.6px">100</div><div class="yl" style="top:342.6px">0</div>
<div class="xl" style="left:34.8px">2020</div><div class="xl" style="left:137.8px">2021</div><div class="xl" style="left:240.8px">2022</div><div class="xl" style="left:343.8px">2023</div><div class="xl" style="left:446.8px">2024</div><div class="xl" style="left:549.8px">2025</div>
<div class="lt" style="left:27px;letter-spacing:0.02px"><span>Cana Woodford</span></div><div class="lt" style="left:146.3px;letter-spacing:-0.26px"><span>DJ-Niobrara</span></div><div class="lt" style="left:241.3px;letter-spacing:-0.47px"><span>Eagle Ford</span></div><div class="lt" style="left:328px;letter-spacing:-0.39px"><span>Haynesville</span></div><div class="lt" style="left:420px;letter-spacing:0.02px"><span>Marcellus</span></div><div class="lt" style="left:502.5px;letter-spacing:-0.17px"><span>Permian</span></div><div class="lt" style="left:576.3px;letter-spacing:0.1px"><span>Williston</span></div><div class="lt" style="left:652px;letter-spacing:0.0px"><span>Others</span></div>
<div id="frame">
<div style="left:0;top:0;width:700px;height:1px;background:#d8d8d8"></div>
<div style="left:0;top:1px;width:700px;height:1px;background:#000"></div>
<div style="left:0;top:2px;width:700px;height:1px;background:#5a5a5a"></div>
<div style="left:0;top:419px;width:700px;height:1px;background:#6a6a6a"></div>
<div style="left:0;top:420px;width:700px;height:1px;background:#000"></div>
<div style="left:0;top:421px;width:700px;height:1px;background:#dcdcdc"></div>
<div style="left:698px;top:0;width:1px;height:422px;background:#6a6a6a"></div>
<div style="left:699px;top:0;width:1px;height:422px;background:#000"></div>
<div style="left:0;top:0;width:3px;height:422px;background:#000"></div>
</div>
</body></html>
